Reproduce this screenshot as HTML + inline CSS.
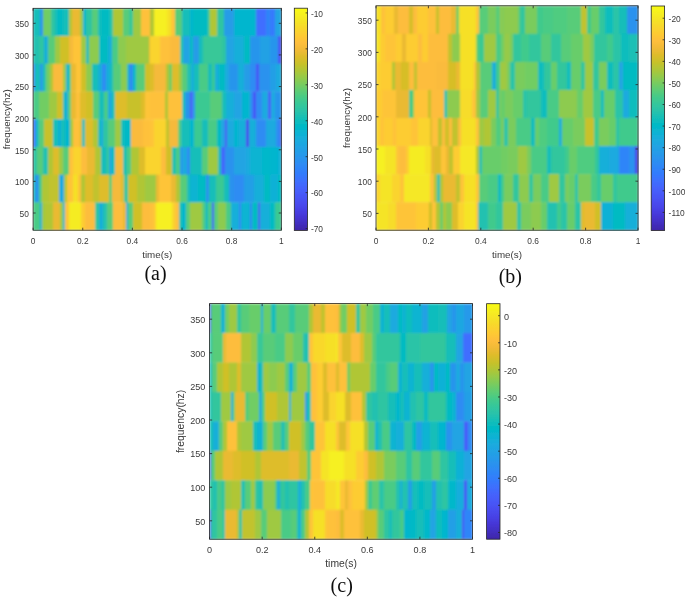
<!DOCTYPE html>
<html><head><meta charset="utf-8"><style>
html,body{margin:0;padding:0;background:#fff;}
body{width:685px;height:597px;overflow:hidden;}
svg{display:block;}
text{font-family:"Liberation Sans", sans-serif;fill:#3a3a3a;}
text.cap{font-family:"Liberation Serif",serif;fill:#111;}
</style></head><body>
<svg width="685" height="597" viewBox="0 0 685 597">
<defs><filter id="bl" x="0" y="0" width="1" height="1"><feGaussianBlur stdDeviation="1.0" edgeMode="duplicate"/></filter><filter id="bt" x="0" y="0" width="1" height="1"><feGaussianBlur stdDeviation="0.45"/></filter></defs>
<g filter="url(#bl)"><rect x="33.1" y="8.3" width="7.2" height="28.04" fill="#12beb9"/><rect x="40" y="8.3" width="3.3" height="28.04" fill="#2895ec"/><rect x="43" y="8.3" width="8.3" height="28.04" fill="#71cd64"/><rect x="51" y="8.3" width="4.3" height="28.04" fill="#2fc5a2"/><rect x="55" y="8.3" width="2.3" height="28.04" fill="#12beb9"/><rect x="57" y="8.3" width="6.3" height="28.04" fill="#04bbc2"/><rect x="63" y="8.3" width="6.3" height="28.04" fill="#12beb9"/><rect x="69" y="8.3" width="3.3" height="28.04" fill="#b0c636"/><rect x="72" y="8.3" width="8.3" height="28.04" fill="#eaba31"/><rect x="80" y="8.3" width="3.3" height="28.04" fill="#9fc942"/><rect x="83" y="8.3" width="3.3" height="28.04" fill="#05b6ce"/><rect x="86" y="8.3" width="6.3" height="28.04" fill="#2fc5a2"/><rect x="92" y="8.3" width="6.3" height="28.04" fill="#58cc79"/><rect x="98" y="8.3" width="3.3" height="28.04" fill="#12beb9"/><rect x="101" y="8.3" width="9.3" height="28.04" fill="#04bbc2"/><rect x="110" y="8.3" width="3.3" height="28.04" fill="#2fc5a2"/><rect x="113" y="8.3" width="10.3" height="28.04" fill="#b0c636"/><rect x="123" y="8.3" width="6.3" height="28.04" fill="#58cc79"/><rect x="129" y="8.3" width="4.3" height="28.04" fill="#37c898"/><rect x="133" y="8.3" width="8.3" height="28.04" fill="#9fc942"/><rect x="141" y="8.3" width="9.3" height="28.04" fill="#fec13a"/><rect x="150" y="8.3" width="4.3" height="28.04" fill="#b0c636"/><rect x="154" y="8.3" width="13.3" height="28.04" fill="#f6f020"/><rect x="167" y="8.3" width="4.3" height="28.04" fill="#f6e028"/><rect x="171" y="8.3" width="4.3" height="28.04" fill="#fec437"/><rect x="175" y="8.3" width="7.3" height="28.04" fill="#58cc79"/><rect x="182" y="8.3" width="8.3" height="28.04" fill="#12beb9"/><rect x="190" y="8.3" width="3.3" height="28.04" fill="#05b6ce"/><rect x="193" y="8.3" width="15.3" height="28.04" fill="#04bbc2"/><rect x="208" y="8.3" width="2.3" height="28.04" fill="#48cb86"/><rect x="210" y="8.3" width="7.3" height="28.04" fill="#b0c636"/><rect x="217" y="8.3" width="7.3" height="28.04" fill="#2fc5a2"/><rect x="224" y="8.3" width="10.3" height="28.04" fill="#259ce7"/><rect x="234" y="8.3" width="8.3" height="28.04" fill="#05b6ce"/><rect x="242" y="8.3" width="14.3" height="28.04" fill="#05b6ce"/><rect x="256" y="8.3" width="10.3" height="28.04" fill="#3f6eff"/><rect x="266" y="8.3" width="4.3" height="28.04" fill="#2e85f8"/><rect x="270" y="8.3" width="5.3" height="28.04" fill="#347afd"/><rect x="275" y="8.3" width="6.6" height="28.04" fill="#20a4e3"/><rect x="33.1" y="36.04" width="6.2" height="28.04" fill="#21c1b0"/><rect x="39" y="36.04" width="5.3" height="28.04" fill="#2fc5a2"/><rect x="44" y="36.04" width="4.3" height="28.04" fill="#15afd9"/><rect x="48" y="36.04" width="7.3" height="28.04" fill="#58cc79"/><rect x="55" y="36.04" width="5.3" height="28.04" fill="#9fc942"/><rect x="60" y="36.04" width="9.3" height="28.04" fill="#d0c027"/><rect x="69" y="36.04" width="4.3" height="28.04" fill="#f5ba3a"/><rect x="73" y="36.04" width="8.3" height="28.04" fill="#fec437"/><rect x="81" y="36.04" width="5.3" height="28.04" fill="#9fc942"/><rect x="86" y="36.04" width="3.3" height="28.04" fill="#12beb9"/><rect x="89" y="36.04" width="10.3" height="28.04" fill="#8dcb4f"/><rect x="99" y="36.04" width="9.3" height="28.04" fill="#04bbc2"/><rect x="108" y="36.04" width="4.3" height="28.04" fill="#15afd9"/><rect x="112" y="36.04" width="6.3" height="28.04" fill="#48cb86"/><rect x="118" y="36.04" width="8.3" height="28.04" fill="#8dcb4f"/><rect x="126" y="36.04" width="15.3" height="28.04" fill="#9fc942"/><rect x="141" y="36.04" width="8.3" height="28.04" fill="#9fc942"/><rect x="149" y="36.04" width="1.3" height="28.04" fill="#eaba31"/><rect x="150" y="36.04" width="10.3" height="28.04" fill="#fad42e"/><rect x="160" y="36.04" width="10.3" height="28.04" fill="#fec13a"/><rect x="170" y="36.04" width="10.3" height="28.04" fill="#fabb3d"/><rect x="180" y="36.04" width="3.3" height="28.04" fill="#2fc5a2"/><rect x="183" y="36.04" width="7.3" height="28.04" fill="#20a4e3"/><rect x="190" y="36.04" width="3.3" height="28.04" fill="#04bbc2"/><rect x="193" y="36.04" width="6.3" height="28.04" fill="#259ce7"/><rect x="199" y="36.04" width="4.3" height="28.04" fill="#12beb9"/><rect x="203" y="36.04" width="19.3" height="28.04" fill="#37c898"/><rect x="222" y="36.04" width="4.3" height="28.04" fill="#2fc5a2"/><rect x="226" y="36.04" width="8.3" height="28.04" fill="#20a4e3"/><rect x="234" y="36.04" width="10.3" height="28.04" fill="#15afd9"/><rect x="244" y="36.04" width="6.3" height="28.04" fill="#04bbc2"/><rect x="250" y="36.04" width="10.3" height="28.04" fill="#2895ec"/><rect x="260" y="36.04" width="10.3" height="28.04" fill="#22a1e4"/><rect x="270" y="36.04" width="8.3" height="28.04" fill="#2895ec"/><rect x="278" y="36.04" width="3.6" height="28.04" fill="#4755f6"/><rect x="33.1" y="63.77" width="2.2" height="28.04" fill="#2d8cf3"/><rect x="35" y="63.77" width="5.3" height="28.04" fill="#12beb9"/><rect x="40" y="63.77" width="3.3" height="28.04" fill="#259ce7"/><rect x="43" y="63.77" width="3.3" height="28.04" fill="#21c1b0"/><rect x="46" y="63.77" width="4.3" height="28.04" fill="#71cd64"/><rect x="50" y="63.77" width="3.3" height="28.04" fill="#b0c636"/><rect x="53" y="63.77" width="10.3" height="28.04" fill="#fabb3d"/><rect x="63" y="63.77" width="3.3" height="28.04" fill="#9fc942"/><rect x="66" y="63.77" width="3.3" height="28.04" fill="#05b6ce"/><rect x="69" y="63.77" width="2.3" height="28.04" fill="#48cb86"/><rect x="71" y="63.77" width="5.3" height="28.04" fill="#eaba31"/><rect x="76" y="63.77" width="5.3" height="28.04" fill="#fec437"/><rect x="81" y="63.77" width="5.3" height="28.04" fill="#d0c027"/><rect x="86" y="63.77" width="6.3" height="28.04" fill="#8dcb4f"/><rect x="92" y="63.77" width="6.3" height="28.04" fill="#12beb9"/><rect x="98" y="63.77" width="4.3" height="28.04" fill="#15afd9"/><rect x="102" y="63.77" width="4.3" height="28.04" fill="#2d8cf3"/><rect x="106" y="63.77" width="4.3" height="28.04" fill="#15afd9"/><rect x="110" y="63.77" width="3.3" height="28.04" fill="#12beb9"/><rect x="113" y="63.77" width="8.3" height="28.04" fill="#58cc79"/><rect x="121" y="63.77" width="6.3" height="28.04" fill="#8dcb4f"/><rect x="127" y="63.77" width="2.3" height="28.04" fill="#12beb9"/><rect x="129" y="63.77" width="4.3" height="28.04" fill="#2d8cf3"/><rect x="133" y="63.77" width="3.3" height="28.04" fill="#01b9c6"/><rect x="136" y="63.77" width="9.3" height="28.04" fill="#58cc79"/><rect x="145" y="63.77" width="5.3" height="28.04" fill="#d0c027"/><rect x="150" y="63.77" width="4.3" height="28.04" fill="#debd29"/><rect x="154" y="63.77" width="12.3" height="28.04" fill="#f5ba3a"/><rect x="166" y="63.77" width="3.3" height="28.04" fill="#b0c636"/><rect x="169" y="63.77" width="3.3" height="28.04" fill="#71cd64"/><rect x="172" y="63.77" width="7.3" height="28.04" fill="#debd29"/><rect x="179" y="63.77" width="3.3" height="28.04" fill="#9fc942"/><rect x="182" y="63.77" width="5.3" height="28.04" fill="#58cc79"/><rect x="187" y="63.77" width="4.3" height="28.04" fill="#21c1b0"/><rect x="191" y="63.77" width="3.3" height="28.04" fill="#15afd9"/><rect x="194" y="63.77" width="5.3" height="28.04" fill="#12beb9"/><rect x="199" y="63.77" width="9.3" height="28.04" fill="#48cb86"/><rect x="208" y="63.77" width="4.3" height="28.04" fill="#12beb9"/><rect x="212" y="63.77" width="3.3" height="28.04" fill="#3bc992"/><rect x="215" y="63.77" width="4.3" height="28.04" fill="#15afd9"/><rect x="219" y="63.77" width="6.3" height="28.04" fill="#04bbc2"/><rect x="225" y="63.77" width="4.3" height="28.04" fill="#1caadf"/><rect x="229" y="63.77" width="9.3" height="28.04" fill="#2895ec"/><rect x="238" y="63.77" width="6.3" height="28.04" fill="#15afd9"/><rect x="244" y="63.77" width="6.3" height="28.04" fill="#259ce7"/><rect x="250" y="63.77" width="6.3" height="28.04" fill="#2d8cf3"/><rect x="256" y="63.77" width="3.3" height="28.04" fill="#4755f6"/><rect x="259" y="63.77" width="11.3" height="28.04" fill="#2a92ee"/><rect x="270" y="63.77" width="6.3" height="28.04" fill="#249fe6"/><rect x="276" y="63.77" width="5.6" height="28.04" fill="#1caadf"/><rect x="33.1" y="91.51" width="6.2" height="28.04" fill="#48cb86"/><rect x="39" y="91.51" width="10.3" height="28.04" fill="#71cd64"/><rect x="49" y="91.51" width="8.3" height="28.04" fill="#9fc942"/><rect x="57" y="91.51" width="6.3" height="28.04" fill="#d0c027"/><rect x="63" y="91.51" width="2.3" height="28.04" fill="#12beb9"/><rect x="65" y="91.51" width="3.3" height="28.04" fill="#15afd9"/><rect x="68" y="91.51" width="3.3" height="28.04" fill="#58cc79"/><rect x="71" y="91.51" width="5.3" height="28.04" fill="#eaba31"/><rect x="76" y="91.51" width="4.3" height="28.04" fill="#fec13a"/><rect x="80" y="91.51" width="6.3" height="28.04" fill="#debd29"/><rect x="86" y="91.51" width="7.3" height="28.04" fill="#d0c027"/><rect x="93" y="91.51" width="6.3" height="28.04" fill="#58cc79"/><rect x="99" y="91.51" width="5.3" height="28.04" fill="#12beb9"/><rect x="104" y="91.51" width="4.3" height="28.04" fill="#48cb86"/><rect x="108" y="91.51" width="4.3" height="28.04" fill="#1caadf"/><rect x="112" y="91.51" width="3.3" height="28.04" fill="#21c1b0"/><rect x="115" y="91.51" width="12.3" height="28.04" fill="#debd29"/><rect x="127" y="91.51" width="14.3" height="28.04" fill="#c8c129"/><rect x="141" y="91.51" width="4.3" height="28.04" fill="#debd29"/><rect x="145" y="91.51" width="5.3" height="28.04" fill="#fec437"/><rect x="150" y="91.51" width="15.3" height="28.04" fill="#fec13a"/><rect x="165" y="91.51" width="3.3" height="28.04" fill="#b0c636"/><rect x="168" y="91.51" width="14.3" height="28.04" fill="#fec13a"/><rect x="182" y="91.51" width="3.3" height="28.04" fill="#21c1b0"/><rect x="185" y="91.51" width="5.3" height="28.04" fill="#2895ec"/><rect x="190" y="91.51" width="2.7" height="28.04" fill="#4755f6"/><rect x="192.4" y="91.51" width="2.9" height="28.04" fill="#2a92ee"/><rect x="195" y="91.51" width="15.3" height="28.04" fill="#3bc992"/><rect x="210" y="91.51" width="12.3" height="28.04" fill="#58cc79"/><rect x="222" y="91.51" width="4.3" height="28.04" fill="#12beb9"/><rect x="226" y="91.51" width="8.3" height="28.04" fill="#15afd9"/><rect x="234" y="91.51" width="8.3" height="28.04" fill="#20a4e3"/><rect x="242" y="91.51" width="8.3" height="28.04" fill="#05b6ce"/><rect x="250" y="91.51" width="3.3" height="28.04" fill="#2d8cf3"/><rect x="253" y="91.51" width="3.3" height="28.04" fill="#4755f6"/><rect x="256" y="91.51" width="6.3" height="28.04" fill="#2d8cf3"/><rect x="262" y="91.51" width="6.3" height="28.04" fill="#1caadf"/><rect x="268" y="91.51" width="3.3" height="28.04" fill="#465ffb"/><rect x="271" y="91.51" width="4.3" height="28.04" fill="#1caadf"/><rect x="275" y="91.51" width="6.6" height="28.04" fill="#2895ec"/><rect x="33.1" y="119.25" width="3.2" height="28.04" fill="#347afd"/><rect x="36" y="119.25" width="3.3" height="28.04" fill="#12beb9"/><rect x="39" y="119.25" width="5.3" height="28.04" fill="#58cc79"/><rect x="44" y="119.25" width="9.3" height="28.04" fill="#c8c129"/><rect x="53" y="119.25" width="5.3" height="28.04" fill="#12beb9"/><rect x="58" y="119.25" width="3.3" height="28.04" fill="#11b1d6"/><rect x="61" y="119.25" width="4.3" height="28.04" fill="#12beb9"/><rect x="65" y="119.25" width="5.3" height="28.04" fill="#05b6ce"/><rect x="70" y="119.25" width="3.3" height="28.04" fill="#9fc942"/><rect x="73" y="119.25" width="7.3" height="28.04" fill="#fec13a"/><rect x="80" y="119.25" width="2.3" height="28.04" fill="#debd29"/><rect x="82" y="119.25" width="3.3" height="28.04" fill="#12beb9"/><rect x="85" y="119.25" width="8.3" height="28.04" fill="#debd29"/><rect x="93" y="119.25" width="5.3" height="28.04" fill="#b0c636"/><rect x="98" y="119.25" width="3.3" height="28.04" fill="#12beb9"/><rect x="101" y="119.25" width="2.3" height="28.04" fill="#1caadf"/><rect x="103" y="119.25" width="5.3" height="28.04" fill="#2fc5a2"/><rect x="108" y="119.25" width="7.3" height="28.04" fill="#58cc79"/><rect x="115" y="119.25" width="6.3" height="28.04" fill="#9fc942"/><rect x="121" y="119.25" width="3.3" height="28.04" fill="#12beb9"/><rect x="124" y="119.25" width="7.3" height="28.04" fill="#01b9c6"/><rect x="131" y="119.25" width="12.3" height="28.04" fill="#fabb3d"/><rect x="143" y="119.25" width="7.3" height="28.04" fill="#fec13a"/><rect x="150" y="119.25" width="4.3" height="28.04" fill="#fec437"/><rect x="154" y="119.25" width="12.3" height="28.04" fill="#fad42e"/><rect x="166" y="119.25" width="3.3" height="28.04" fill="#c1c32d"/><rect x="169" y="119.25" width="9.3" height="28.04" fill="#f5ba3a"/><rect x="178" y="119.25" width="3.3" height="28.04" fill="#58cc79"/><rect x="181" y="119.25" width="9.3" height="28.04" fill="#12beb9"/><rect x="190" y="119.25" width="4.3" height="28.04" fill="#05b6ce"/><rect x="194" y="119.25" width="8.3" height="28.04" fill="#3bc992"/><rect x="202" y="119.25" width="6.3" height="28.04" fill="#12beb9"/><rect x="208" y="119.25" width="9.3" height="28.04" fill="#48cb86"/><rect x="217" y="119.25" width="4.3" height="28.04" fill="#04bbc2"/><rect x="221" y="119.25" width="4.3" height="28.04" fill="#20a4e3"/><rect x="225" y="119.25" width="2.3" height="28.04" fill="#4755f6"/><rect x="227" y="119.25" width="7.3" height="28.04" fill="#1caadf"/><rect x="234" y="119.25" width="4.3" height="28.04" fill="#05b6ce"/><rect x="238" y="119.25" width="8.3" height="28.04" fill="#15afd9"/><rect x="246" y="119.25" width="3.3" height="28.04" fill="#484aee"/><rect x="249" y="119.25" width="7.3" height="28.04" fill="#15afd9"/><rect x="256" y="119.25" width="10.3" height="28.04" fill="#2d8cf3"/><rect x="266" y="119.25" width="10.3" height="28.04" fill="#1caadf"/><rect x="276" y="119.25" width="4.3" height="28.04" fill="#2d8cf3"/><rect x="280" y="119.25" width="1.6" height="28.04" fill="#4755f6"/><rect x="33.1" y="146.99" width="4.2" height="28.04" fill="#2fc5a2"/><rect x="37" y="146.99" width="6.3" height="28.04" fill="#58cc79"/><rect x="43" y="146.99" width="5.3" height="28.04" fill="#21c1b0"/><rect x="48" y="146.99" width="5.3" height="28.04" fill="#b0c636"/><rect x="53" y="146.99" width="6.3" height="28.04" fill="#debd29"/><rect x="59" y="146.99" width="4.3" height="28.04" fill="#9fc942"/><rect x="63" y="146.99" width="6.3" height="28.04" fill="#58cc79"/><rect x="69" y="146.99" width="4.3" height="28.04" fill="#fec13a"/><rect x="73" y="146.99" width="8.3" height="28.04" fill="#fad42e"/><rect x="81" y="146.99" width="6.3" height="28.04" fill="#fdbd3d"/><rect x="87" y="146.99" width="8.3" height="28.04" fill="#eaba31"/><rect x="95" y="146.99" width="6.3" height="28.04" fill="#b0c636"/><rect x="101" y="146.99" width="6.3" height="28.04" fill="#12beb9"/><rect x="107" y="146.99" width="2.3" height="28.04" fill="#3bc992"/><rect x="109" y="146.99" width="3.3" height="28.04" fill="#1caadf"/><rect x="112" y="146.99" width="3.3" height="28.04" fill="#12beb9"/><rect x="115" y="146.99" width="8.3" height="28.04" fill="#f5ba3a"/><rect x="123" y="146.99" width="4.3" height="28.04" fill="#21c1b0"/><rect x="127" y="146.99" width="4.3" height="28.04" fill="#48cb86"/><rect x="131" y="146.99" width="8.3" height="28.04" fill="#b0c636"/><rect x="139" y="146.99" width="6.3" height="28.04" fill="#debd29"/><rect x="145" y="146.99" width="5.3" height="28.04" fill="#fad42e"/><rect x="150" y="146.99" width="11.3" height="28.04" fill="#fad42e"/><rect x="161" y="146.99" width="5.3" height="28.04" fill="#fdbd3d"/><rect x="166" y="146.99" width="6.3" height="28.04" fill="#d0c027"/><rect x="172" y="146.99" width="4.3" height="28.04" fill="#21c1b0"/><rect x="176" y="146.99" width="4.3" height="28.04" fill="#48cb86"/><rect x="180" y="146.99" width="3.3" height="28.04" fill="#259ce7"/><rect x="183" y="146.99" width="4.3" height="28.04" fill="#1caadf"/><rect x="187" y="146.99" width="3.3" height="28.04" fill="#2d8cf3"/><rect x="190" y="146.99" width="12.3" height="28.04" fill="#12beb9"/><rect x="202" y="146.99" width="6.3" height="28.04" fill="#58cc79"/><rect x="208" y="146.99" width="10.3" height="28.04" fill="#9fc942"/><rect x="218" y="146.99" width="3.3" height="28.04" fill="#12beb9"/><rect x="221" y="146.99" width="4.3" height="28.04" fill="#4367fd"/><rect x="225" y="146.99" width="9.3" height="28.04" fill="#2a92ee"/><rect x="234" y="146.99" width="12.3" height="28.04" fill="#20a4e3"/><rect x="246" y="146.99" width="4.3" height="28.04" fill="#1caadf"/><rect x="250" y="146.99" width="12.3" height="28.04" fill="#0ab4d2"/><rect x="262" y="146.99" width="8.3" height="28.04" fill="#01b8ca"/><rect x="270" y="146.99" width="8.3" height="28.04" fill="#05b6ce"/><rect x="278" y="146.99" width="3.6" height="28.04" fill="#11b1d6"/><rect x="33.1" y="174.72" width="2.2" height="28.04" fill="#12beb9"/><rect x="35" y="174.72" width="4.3" height="28.04" fill="#2895ec"/><rect x="39" y="174.72" width="3.3" height="28.04" fill="#48cb86"/><rect x="42" y="174.72" width="7.3" height="28.04" fill="#b0c636"/><rect x="49" y="174.72" width="10.3" height="28.04" fill="#c1c32d"/><rect x="59" y="174.72" width="5.3" height="28.04" fill="#1caadf"/><rect x="64" y="174.72" width="3.3" height="28.04" fill="#b0c636"/><rect x="67" y="174.72" width="6.3" height="28.04" fill="#fec437"/><rect x="73" y="174.72" width="5.3" height="28.04" fill="#f6e028"/><rect x="78" y="174.72" width="3.3" height="28.04" fill="#fec13a"/><rect x="81" y="174.72" width="4.3" height="28.04" fill="#b0c636"/><rect x="85" y="174.72" width="8.3" height="28.04" fill="#debd29"/><rect x="93" y="174.72" width="6.3" height="28.04" fill="#c1c32d"/><rect x="99" y="174.72" width="10.3" height="28.04" fill="#debd29"/><rect x="109" y="174.72" width="3.3" height="28.04" fill="#58cc79"/><rect x="112" y="174.72" width="9.3" height="28.04" fill="#f5ba3a"/><rect x="121" y="174.72" width="3.3" height="28.04" fill="#debd29"/><rect x="124" y="174.72" width="4.3" height="28.04" fill="#2fc5a2"/><rect x="128" y="174.72" width="9.3" height="28.04" fill="#d0c027"/><rect x="137" y="174.72" width="8.3" height="28.04" fill="#b0c636"/><rect x="145" y="174.72" width="5.3" height="28.04" fill="#9fc942"/><rect x="150" y="174.72" width="6.3" height="28.04" fill="#9fc942"/><rect x="156" y="174.72" width="3.3" height="28.04" fill="#eaba31"/><rect x="159" y="174.72" width="12.3" height="28.04" fill="#fec437"/><rect x="171" y="174.72" width="5.3" height="28.04" fill="#eaba31"/><rect x="176" y="174.72" width="4.3" height="28.04" fill="#b0c636"/><rect x="180" y="174.72" width="7.3" height="28.04" fill="#58cc79"/><rect x="187" y="174.72" width="3.3" height="28.04" fill="#12beb9"/><rect x="190" y="174.72" width="8.3" height="28.04" fill="#0ab4d2"/><rect x="198" y="174.72" width="8.3" height="28.04" fill="#04bbc2"/><rect x="206" y="174.72" width="3.3" height="28.04" fill="#2a92ee"/><rect x="209" y="174.72" width="7.3" height="28.04" fill="#12beb9"/><rect x="216" y="174.72" width="8.3" height="28.04" fill="#3bc992"/><rect x="224" y="174.72" width="5.3" height="28.04" fill="#12beb9"/><rect x="229" y="174.72" width="5.3" height="28.04" fill="#2a92ee"/><rect x="234" y="174.72" width="10.3" height="28.04" fill="#2d8cf3"/><rect x="244" y="174.72" width="10.3" height="28.04" fill="#249fe6"/><rect x="254" y="174.72" width="10.3" height="28.04" fill="#15afd9"/><rect x="264" y="174.72" width="6.3" height="28.04" fill="#04bbc2"/><rect x="270" y="174.72" width="8.3" height="28.04" fill="#11b1d6"/><rect x="278" y="174.72" width="3.6" height="28.04" fill="#04bbc2"/><rect x="33.1" y="202.46" width="7.2" height="28.04" fill="#48cb86"/><rect x="40" y="202.46" width="2.3" height="28.04" fill="#11b1d6"/><rect x="42" y="202.46" width="3.3" height="28.04" fill="#9fc942"/><rect x="45" y="202.46" width="8.3" height="28.04" fill="#b0c636"/><rect x="53" y="202.46" width="7.3" height="28.04" fill="#eaba31"/><rect x="60" y="202.46" width="3.3" height="28.04" fill="#9fc942"/><rect x="63" y="202.46" width="2.3" height="28.04" fill="#05b6ce"/><rect x="65" y="202.46" width="4.3" height="28.04" fill="#fec437"/><rect x="69" y="202.46" width="12.3" height="28.04" fill="#f5ec22"/><rect x="81" y="202.46" width="4.3" height="28.04" fill="#fdcc32"/><rect x="85" y="202.46" width="10.3" height="28.04" fill="#fdbd3d"/><rect x="95" y="202.46" width="4.3" height="28.04" fill="#2fc5a2"/><rect x="99" y="202.46" width="4.3" height="28.04" fill="#15afd9"/><rect x="103" y="202.46" width="4.3" height="28.04" fill="#21c1b0"/><rect x="107" y="202.46" width="6.3" height="28.04" fill="#58cc79"/><rect x="113" y="202.46" width="10.3" height="28.04" fill="#fdbd3d"/><rect x="123" y="202.46" width="3.3" height="28.04" fill="#eaba31"/><rect x="126" y="202.46" width="2.3" height="28.04" fill="#15afd9"/><rect x="128" y="202.46" width="5.3" height="28.04" fill="#58cc79"/><rect x="133" y="202.46" width="9.3" height="28.04" fill="#d0c027"/><rect x="142" y="202.46" width="8.3" height="28.04" fill="#fdbd3d"/><rect x="150" y="202.46" width="4.3" height="28.04" fill="#fec13a"/><rect x="154" y="202.46" width="2.3" height="28.04" fill="#fdcc32"/><rect x="156" y="202.46" width="16.3" height="28.04" fill="#f6f020"/><rect x="172" y="202.46" width="3.3" height="28.04" fill="#fad42e"/><rect x="175" y="202.46" width="4.3" height="28.04" fill="#fec13a"/><rect x="179" y="202.46" width="3.3" height="28.04" fill="#21c1b0"/><rect x="182" y="202.46" width="4.3" height="28.04" fill="#05b6ce"/><rect x="186" y="202.46" width="4.3" height="28.04" fill="#58cc79"/><rect x="190" y="202.46" width="12.3" height="28.04" fill="#9fc942"/><rect x="202" y="202.46" width="3.3" height="28.04" fill="#58cc79"/><rect x="205" y="202.46" width="3.3" height="28.04" fill="#12beb9"/><rect x="208" y="202.46" width="4.3" height="28.04" fill="#48cb86"/><rect x="212" y="202.46" width="2.3" height="28.04" fill="#4755f6"/><rect x="214" y="202.46" width="4.3" height="28.04" fill="#58cc79"/><rect x="218" y="202.46" width="8.3" height="28.04" fill="#8dcb4f"/><rect x="226" y="202.46" width="5.3" height="28.04" fill="#48cb86"/><rect x="231" y="202.46" width="8.3" height="28.04" fill="#15afd9"/><rect x="239" y="202.46" width="2.3" height="28.04" fill="#2e85f8"/><rect x="241" y="202.46" width="9.3" height="28.04" fill="#0ab4d2"/><rect x="250" y="202.46" width="2.3" height="28.04" fill="#2e85f8"/><rect x="252" y="202.46" width="6.3" height="28.04" fill="#04bbc2"/><rect x="258" y="202.46" width="2.3" height="28.04" fill="#4755f6"/><rect x="260" y="202.46" width="10.3" height="28.04" fill="#15afd9"/><rect x="270" y="202.46" width="5.3" height="28.04" fill="#04bbc2"/><rect x="275" y="202.46" width="6.6" height="28.04" fill="#3bc992"/></g><g filter="url(#bl)"><rect x="376" y="5.8" width="5.3" height="28.35" fill="#f6e028"/><rect x="381" y="5.8" width="4.3" height="28.35" fill="#fec13a"/><rect x="385" y="5.8" width="9.3" height="28.35" fill="#fdcc32"/><rect x="394" y="5.8" width="4.3" height="28.35" fill="#eaba31"/><rect x="398" y="5.8" width="11.3" height="28.35" fill="#fdbd3d"/><rect x="409" y="5.8" width="4.3" height="28.35" fill="#d7be28"/><rect x="413" y="5.8" width="4.3" height="28.35" fill="#fdbd3d"/><rect x="417" y="5.8" width="11.3" height="28.35" fill="#fdcc32"/><rect x="428" y="5.8" width="8.3" height="28.35" fill="#fec13a"/><rect x="436" y="5.8" width="3.3" height="28.35" fill="#c8c129"/><rect x="439" y="5.8" width="12.3" height="28.35" fill="#fdbd3d"/><rect x="451" y="5.8" width="5.3" height="28.35" fill="#eaba31"/><rect x="456" y="5.8" width="3.3" height="28.35" fill="#71cd64"/><rect x="459" y="5.8" width="17.3" height="28.35" fill="#f6e028"/><rect x="476" y="5.8" width="3.3" height="28.35" fill="#fec437"/><rect x="479" y="5.8" width="5.3" height="28.35" fill="#58cc79"/><rect x="484" y="5.8" width="4.3" height="28.35" fill="#58cc79"/><rect x="488" y="5.8" width="8.3" height="28.35" fill="#7acc5d"/><rect x="496" y="5.8" width="4.3" height="28.35" fill="#58cc79"/><rect x="500" y="5.8" width="1.3" height="28.35" fill="#9fc942"/><rect x="501" y="5.8" width="3.3" height="28.35" fill="#84cc56"/><rect x="504" y="5.8" width="14.3" height="28.35" fill="#8dcb4f"/><rect x="518" y="5.8" width="2.3" height="28.35" fill="#60cd72"/><rect x="520" y="5.8" width="5.3" height="28.35" fill="#33c69d"/><rect x="525" y="5.8" width="12.3" height="28.35" fill="#7acc5d"/><rect x="537" y="5.8" width="6.3" height="28.35" fill="#41ca8c"/><rect x="543" y="5.8" width="10.3" height="28.35" fill="#48cb86"/><rect x="553" y="5.8" width="14.3" height="28.35" fill="#50cc80"/><rect x="567" y="5.8" width="14.3" height="28.35" fill="#58cc79"/><rect x="581" y="5.8" width="6.3" height="28.35" fill="#c1c32d"/><rect x="587" y="5.8" width="4.3" height="28.35" fill="#41ca8c"/><rect x="591" y="5.8" width="8.3" height="28.35" fill="#68cd6b"/><rect x="599" y="5.8" width="6.3" height="28.35" fill="#33c69d"/><rect x="605" y="5.8" width="8.3" height="28.35" fill="#0abdbd"/><rect x="613" y="5.8" width="6.3" height="28.35" fill="#2cc4a7"/><rect x="619" y="5.8" width="8.3" height="28.35" fill="#12beb9"/><rect x="627" y="5.8" width="11.3" height="28.35" fill="#2a92ee"/><rect x="376" y="33.85" width="4.3" height="28.35" fill="#f5e427"/><rect x="380" y="33.85" width="5.3" height="28.35" fill="#fdcc32"/><rect x="385" y="33.85" width="11.3" height="28.35" fill="#fec437"/><rect x="396" y="33.85" width="6.3" height="28.35" fill="#fdcc32"/><rect x="402" y="33.85" width="4.3" height="28.35" fill="#eaba31"/><rect x="406" y="33.85" width="12.3" height="28.35" fill="#fdcc32"/><rect x="418" y="33.85" width="4.3" height="28.35" fill="#fdbd3d"/><rect x="422" y="33.85" width="6.3" height="28.35" fill="#fdcc32"/><rect x="428" y="33.85" width="6.3" height="28.35" fill="#fdbd3d"/><rect x="434" y="33.85" width="14.3" height="28.35" fill="#fdbd3d"/><rect x="448" y="33.85" width="4.3" height="28.35" fill="#c1c32d"/><rect x="452" y="33.85" width="8.3" height="28.35" fill="#8dcb4f"/><rect x="460" y="33.85" width="16.3" height="28.35" fill="#f6e028"/><rect x="476" y="33.85" width="2.3" height="28.35" fill="#71cd64"/><rect x="478" y="33.85" width="6.3" height="28.35" fill="#3bc992"/><rect x="484" y="33.85" width="12.3" height="28.35" fill="#9fc942"/><rect x="496" y="33.85" width="5.3" height="28.35" fill="#48cb86"/><rect x="501" y="33.85" width="3.3" height="28.35" fill="#71cd64"/><rect x="504" y="33.85" width="6.3" height="28.35" fill="#96ca48"/><rect x="510" y="33.85" width="3.3" height="28.35" fill="#7acc5d"/><rect x="513" y="33.85" width="8.3" height="28.35" fill="#33c69d"/><rect x="521" y="33.85" width="8.3" height="28.35" fill="#41ca8c"/><rect x="529" y="33.85" width="12.3" height="28.35" fill="#33c69d"/><rect x="541" y="33.85" width="10.3" height="28.35" fill="#58cc79"/><rect x="551" y="33.85" width="10.3" height="28.35" fill="#33c69d"/><rect x="561" y="33.85" width="10.3" height="28.35" fill="#58cc79"/><rect x="571" y="33.85" width="12.3" height="28.35" fill="#68cd6b"/><rect x="583" y="33.85" width="7.3" height="28.35" fill="#9fc942"/><rect x="590" y="33.85" width="4.3" height="28.35" fill="#7acc5d"/><rect x="594" y="33.85" width="13.3" height="28.35" fill="#33c69d"/><rect x="607" y="33.85" width="6.3" height="28.35" fill="#41ca8c"/><rect x="613" y="33.85" width="8.3" height="28.35" fill="#2cc4a7"/><rect x="621" y="33.85" width="8.3" height="28.35" fill="#0abdbd"/><rect x="629" y="33.85" width="9.3" height="28.35" fill="#1ac0b5"/><rect x="376" y="61.9" width="4.3" height="28.35" fill="#fad42e"/><rect x="380" y="61.9" width="12.3" height="28.35" fill="#fdcc32"/><rect x="392" y="61.9" width="3.3" height="28.35" fill="#b0c636"/><rect x="395" y="61.9" width="6.3" height="28.35" fill="#eaba31"/><rect x="401" y="61.9" width="8.3" height="28.35" fill="#d7be28"/><rect x="409" y="61.9" width="5.3" height="28.35" fill="#fdbd3d"/><rect x="414" y="61.9" width="3.3" height="28.35" fill="#c1c32d"/><rect x="417" y="61.9" width="19.3" height="28.35" fill="#fdbd3d"/><rect x="436" y="61.9" width="12.3" height="28.35" fill="#fabb3d"/><rect x="448" y="61.9" width="8.3" height="28.35" fill="#d7be28"/><rect x="456" y="61.9" width="4.3" height="28.35" fill="#eaba31"/><rect x="460" y="61.9" width="14.3" height="28.35" fill="#f6e028"/><rect x="474" y="61.9" width="2.3" height="28.35" fill="#fec13a"/><rect x="476" y="61.9" width="4.3" height="28.35" fill="#b0c636"/><rect x="480" y="61.9" width="12.3" height="28.35" fill="#58cc79"/><rect x="492" y="61.9" width="4.3" height="28.35" fill="#15afd9"/><rect x="496" y="61.9" width="4.3" height="28.35" fill="#41ca8c"/><rect x="500" y="61.9" width="1.3" height="28.35" fill="#9fc942"/><rect x="501" y="61.9" width="6.3" height="28.35" fill="#9fc942"/><rect x="507" y="61.9" width="3.3" height="28.35" fill="#7acc5d"/><rect x="510" y="61.9" width="5.3" height="28.35" fill="#2cc4a7"/><rect x="515" y="61.9" width="10.3" height="28.35" fill="#7acc5d"/><rect x="525" y="61.9" width="13.3" height="28.35" fill="#71cd64"/><rect x="538" y="61.9" width="6.3" height="28.35" fill="#0abdbd"/><rect x="544" y="61.9" width="7.3" height="28.35" fill="#33c69d"/><rect x="551" y="61.9" width="6.3" height="28.35" fill="#68cd6b"/><rect x="557" y="61.9" width="10.3" height="28.35" fill="#33c69d"/><rect x="567" y="61.9" width="4.3" height="28.35" fill="#0abdbd"/><rect x="571" y="61.9" width="10.3" height="28.35" fill="#68cd6b"/><rect x="581" y="61.9" width="4.3" height="28.35" fill="#33c69d"/><rect x="585" y="61.9" width="8.3" height="28.35" fill="#9fc942"/><rect x="593" y="61.9" width="6.3" height="28.35" fill="#33c69d"/><rect x="599" y="61.9" width="8.3" height="28.35" fill="#7acc5d"/><rect x="607" y="61.9" width="6.3" height="28.35" fill="#0abdbd"/><rect x="613" y="61.9" width="6.3" height="28.35" fill="#2cc4a7"/><rect x="619" y="61.9" width="4.3" height="28.35" fill="#20a4e3"/><rect x="623" y="61.9" width="15.3" height="28.35" fill="#04bbc2"/><rect x="376" y="89.95" width="6.3" height="28.35" fill="#fdcc32"/><rect x="382" y="89.95" width="14.3" height="28.35" fill="#fec437"/><rect x="396" y="89.95" width="13.3" height="28.35" fill="#eaba31"/><rect x="409" y="89.95" width="3.3" height="28.35" fill="#3bc992"/><rect x="412" y="89.95" width="2.3" height="28.35" fill="#71cd64"/><rect x="414" y="89.95" width="14.3" height="28.35" fill="#fec437"/><rect x="428" y="89.95" width="3.3" height="28.35" fill="#c8c129"/><rect x="431" y="89.95" width="13.3" height="28.35" fill="#fdbd3d"/><rect x="444" y="89.95" width="3.3" height="28.35" fill="#21c1b0"/><rect x="447" y="89.95" width="13.3" height="28.35" fill="#8dcb4f"/><rect x="460" y="89.95" width="12.3" height="28.35" fill="#f7dc2a"/><rect x="472" y="89.95" width="4.3" height="28.35" fill="#fec437"/><rect x="476" y="89.95" width="4.3" height="28.35" fill="#9fc942"/><rect x="480" y="89.95" width="8.3" height="28.35" fill="#58cc79"/><rect x="488" y="89.95" width="8.3" height="28.35" fill="#9fc942"/><rect x="496" y="89.95" width="3.3" height="28.35" fill="#33c69d"/><rect x="499" y="89.95" width="2.3" height="28.35" fill="#7acc5d"/><rect x="501" y="89.95" width="4.3" height="28.35" fill="#68cd6b"/><rect x="505" y="89.95" width="8.3" height="28.35" fill="#7acc5d"/><rect x="513" y="89.95" width="10.3" height="28.35" fill="#68cd6b"/><rect x="523" y="89.95" width="4.3" height="28.35" fill="#2cc4a7"/><rect x="527" y="89.95" width="14.3" height="28.35" fill="#33c69d"/><rect x="541" y="89.95" width="6.3" height="28.35" fill="#0abdbd"/><rect x="547" y="89.95" width="12.3" height="28.35" fill="#48cb86"/><rect x="559" y="89.95" width="18.3" height="28.35" fill="#8dcb4f"/><rect x="577" y="89.95" width="6.3" height="28.35" fill="#68cd6b"/><rect x="583" y="89.95" width="10.3" height="28.35" fill="#9fc942"/><rect x="593" y="89.95" width="8.3" height="28.35" fill="#48cb86"/><rect x="601" y="89.95" width="3.3" height="28.35" fill="#0abdbd"/><rect x="604" y="89.95" width="11.3" height="28.35" fill="#68cd6b"/><rect x="615" y="89.95" width="8.3" height="28.35" fill="#2cc4a7"/><rect x="623" y="89.95" width="6.3" height="28.35" fill="#1caadf"/><rect x="629" y="89.95" width="9.3" height="28.35" fill="#0abdbd"/><rect x="376" y="118" width="4.3" height="28.35" fill="#fad42e"/><rect x="380" y="118" width="4.3" height="28.35" fill="#fec437"/><rect x="384" y="118" width="9.3" height="28.35" fill="#fdcc32"/><rect x="393" y="118" width="3.3" height="28.35" fill="#fec13a"/><rect x="396" y="118" width="15.3" height="28.35" fill="#fdcc32"/><rect x="411" y="118" width="7.3" height="28.35" fill="#fec437"/><rect x="418" y="118" width="12.3" height="28.35" fill="#fad42e"/><rect x="430" y="118" width="2.3" height="28.35" fill="#debd29"/><rect x="432" y="118" width="6.3" height="28.35" fill="#fec13a"/><rect x="438" y="118" width="4.3" height="28.35" fill="#c1c32d"/><rect x="442" y="118" width="3.3" height="28.35" fill="#fdbd3d"/><rect x="445" y="118" width="4.3" height="28.35" fill="#d0c027"/><rect x="449" y="118" width="3.3" height="28.35" fill="#fdbd3d"/><rect x="452" y="118" width="6.3" height="28.35" fill="#c1c32d"/><rect x="458" y="118" width="3.3" height="28.35" fill="#fdbd3d"/><rect x="461" y="118" width="15.3" height="28.35" fill="#f6e028"/><rect x="476" y="118" width="3.3" height="28.35" fill="#fec13a"/><rect x="479" y="118" width="5.3" height="28.35" fill="#9fc942"/><rect x="484" y="118" width="7.3" height="28.35" fill="#b0c636"/><rect x="491" y="118" width="5.3" height="28.35" fill="#7acc5d"/><rect x="496" y="118" width="5.3" height="28.35" fill="#50cc80"/><rect x="501" y="118" width="3.3" height="28.35" fill="#7acc5d"/><rect x="504" y="118" width="4.3" height="28.35" fill="#2cc4a7"/><rect x="508" y="118" width="8.3" height="28.35" fill="#7acc5d"/><rect x="516" y="118" width="15.3" height="28.35" fill="#48cb86"/><rect x="531" y="118" width="4.3" height="28.35" fill="#0abdbd"/><rect x="535" y="118" width="4.3" height="28.35" fill="#68cd6b"/><rect x="539" y="118" width="8.3" height="28.35" fill="#50cc80"/><rect x="547" y="118" width="12.3" height="28.35" fill="#41ca8c"/><rect x="559" y="118" width="3.3" height="28.35" fill="#15afd9"/><rect x="562" y="118" width="11.3" height="28.35" fill="#68cd6b"/><rect x="573" y="118" width="12.3" height="28.35" fill="#7acc5d"/><rect x="585" y="118" width="9.3" height="28.35" fill="#c8c129"/><rect x="594" y="118" width="5.3" height="28.35" fill="#41ca8c"/><rect x="599" y="118" width="10.3" height="28.35" fill="#7acc5d"/><rect x="609" y="118" width="7.3" height="28.35" fill="#68cd6b"/><rect x="616" y="118" width="3.3" height="28.35" fill="#2cc4a7"/><rect x="619" y="118" width="19.3" height="28.35" fill="#41ca8c"/><rect x="376" y="146.05" width="9.3" height="28.35" fill="#f6f020"/><rect x="385" y="146.05" width="11.3" height="28.35" fill="#f5e427"/><rect x="396" y="146.05" width="3.3" height="28.35" fill="#fec437"/><rect x="399" y="146.05" width="7.3" height="28.35" fill="#fdbd3d"/><rect x="406" y="146.05" width="3.3" height="28.35" fill="#fdcc32"/><rect x="409" y="146.05" width="16.3" height="28.35" fill="#f5ec22"/><rect x="425" y="146.05" width="6.3" height="28.35" fill="#f6e028"/><rect x="431" y="146.05" width="3.3" height="28.35" fill="#eaba31"/><rect x="434" y="146.05" width="7.3" height="28.35" fill="#debd29"/><rect x="441" y="146.05" width="5.3" height="28.35" fill="#fec437"/><rect x="446" y="146.05" width="3.3" height="28.35" fill="#eaba31"/><rect x="449" y="146.05" width="4.3" height="28.35" fill="#c1c32d"/><rect x="453" y="146.05" width="7.3" height="28.35" fill="#fdcc32"/><rect x="460" y="146.05" width="16.3" height="28.35" fill="#f5e825"/><rect x="476" y="146.05" width="3.3" height="28.35" fill="#b0c636"/><rect x="479" y="146.05" width="3.3" height="28.35" fill="#21c1b0"/><rect x="482" y="146.05" width="10.3" height="28.35" fill="#68cd6b"/><rect x="492" y="146.05" width="9.3" height="28.35" fill="#68cd6b"/><rect x="501" y="146.05" width="7.3" height="28.35" fill="#71cd64"/><rect x="508" y="146.05" width="10.3" height="28.35" fill="#7acc5d"/><rect x="518" y="146.05" width="9.3" height="28.35" fill="#9fc942"/><rect x="527" y="146.05" width="4.3" height="28.35" fill="#7acc5d"/><rect x="531" y="146.05" width="16.3" height="28.35" fill="#48cb86"/><rect x="547" y="146.05" width="4.3" height="28.35" fill="#12beb9"/><rect x="551" y="146.05" width="14.3" height="28.35" fill="#33c69d"/><rect x="565" y="146.05" width="4.3" height="28.35" fill="#41ca8c"/><rect x="569" y="146.05" width="8.3" height="28.35" fill="#68cd6b"/><rect x="577" y="146.05" width="18.3" height="28.35" fill="#50cc80"/><rect x="595" y="146.05" width="4.3" height="28.35" fill="#33c69d"/><rect x="599" y="146.05" width="10.3" height="28.35" fill="#15afd9"/><rect x="609" y="146.05" width="10.3" height="28.35" fill="#1caadf"/><rect x="619" y="146.05" width="10.3" height="28.35" fill="#2e85f8"/><rect x="629" y="146.05" width="6.3" height="28.35" fill="#2a92ee"/><rect x="635" y="146.05" width="3.3" height="28.35" fill="#4743e7"/><rect x="376" y="174.1" width="4.3" height="28.35" fill="#fad42e"/><rect x="380" y="174.1" width="12.3" height="28.35" fill="#f5e427"/><rect x="392" y="174.1" width="8.3" height="28.35" fill="#fad42e"/><rect x="400" y="174.1" width="4.3" height="28.35" fill="#fec437"/><rect x="404" y="174.1" width="26.3" height="28.35" fill="#f5e825"/><rect x="430" y="174.1" width="4.3" height="28.35" fill="#fec13a"/><rect x="434" y="174.1" width="3.3" height="28.35" fill="#b0c636"/><rect x="437" y="174.1" width="3.3" height="28.35" fill="#21c1b0"/><rect x="440" y="174.1" width="3.3" height="28.35" fill="#b0c636"/><rect x="443" y="174.1" width="13.3" height="28.35" fill="#eaba31"/><rect x="456" y="174.1" width="4.3" height="28.35" fill="#c1c32d"/><rect x="460" y="174.1" width="4.3" height="28.35" fill="#fec437"/><rect x="464" y="174.1" width="12.3" height="28.35" fill="#f6e028"/><rect x="476" y="174.1" width="3.3" height="28.35" fill="#fec437"/><rect x="479" y="174.1" width="9.3" height="28.35" fill="#58cc79"/><rect x="488" y="174.1" width="10.3" height="28.35" fill="#48cb86"/><rect x="498" y="174.1" width="3.3" height="28.35" fill="#04bbc2"/><rect x="501" y="174.1" width="3.3" height="28.35" fill="#41ca8c"/><rect x="504" y="174.1" width="9.3" height="28.35" fill="#7acc5d"/><rect x="513" y="174.1" width="6.3" height="28.35" fill="#33c69d"/><rect x="519" y="174.1" width="10.3" height="28.35" fill="#8dcb4f"/><rect x="529" y="174.1" width="4.3" height="28.35" fill="#33c69d"/><rect x="533" y="174.1" width="8.3" height="28.35" fill="#7acc5d"/><rect x="541" y="174.1" width="8.3" height="28.35" fill="#48cb86"/><rect x="549" y="174.1" width="10.3" height="28.35" fill="#9fc942"/><rect x="559" y="174.1" width="6.3" height="28.35" fill="#33c69d"/><rect x="565" y="174.1" width="4.3" height="28.35" fill="#7acc5d"/><rect x="569" y="174.1" width="6.3" height="28.35" fill="#68cd6b"/><rect x="575" y="174.1" width="3.3" height="28.35" fill="#2cc4a7"/><rect x="578" y="174.1" width="13.3" height="28.35" fill="#7acc5d"/><rect x="591" y="174.1" width="6.3" height="28.35" fill="#48cb86"/><rect x="597" y="174.1" width="4.3" height="28.35" fill="#33c69d"/><rect x="601" y="174.1" width="12.3" height="28.35" fill="#68cd6b"/><rect x="613" y="174.1" width="4.3" height="28.35" fill="#33c69d"/><rect x="617" y="174.1" width="21.3" height="28.35" fill="#41ca8c"/><rect x="376" y="202.15" width="12.3" height="28.35" fill="#f5e427"/><rect x="388" y="202.15" width="8.3" height="28.35" fill="#f7dc2a"/><rect x="396" y="202.15" width="20.3" height="28.35" fill="#fec437"/><rect x="416" y="202.15" width="13.3" height="28.35" fill="#fdcc32"/><rect x="429" y="202.15" width="3.3" height="28.35" fill="#d0c027"/><rect x="432" y="202.15" width="4.3" height="28.35" fill="#fec437"/><rect x="436" y="202.15" width="4.3" height="28.35" fill="#b0c636"/><rect x="440" y="202.15" width="3.3" height="28.35" fill="#68cd6b"/><rect x="443" y="202.15" width="3.3" height="28.35" fill="#b0c636"/><rect x="446" y="202.15" width="6.3" height="28.35" fill="#8dcb4f"/><rect x="452" y="202.15" width="6.3" height="28.35" fill="#debd29"/><rect x="458" y="202.15" width="6.3" height="28.35" fill="#fad42e"/><rect x="464" y="202.15" width="12.3" height="28.35" fill="#f5e427"/><rect x="476" y="202.15" width="2.3" height="28.35" fill="#fec13a"/><rect x="478" y="202.15" width="4.3" height="28.35" fill="#21c1b0"/><rect x="482" y="202.15" width="6.3" height="28.35" fill="#21c1b0"/><rect x="488" y="202.15" width="8.3" height="28.35" fill="#41ca8c"/><rect x="496" y="202.15" width="5.3" height="28.35" fill="#33c69d"/><rect x="501" y="202.15" width="2.3" height="28.35" fill="#33c69d"/><rect x="503" y="202.15" width="14.3" height="28.35" fill="#9fc942"/><rect x="517" y="202.15" width="4.3" height="28.35" fill="#2cc4a7"/><rect x="521" y="202.15" width="10.3" height="28.35" fill="#7acc5d"/><rect x="531" y="202.15" width="10.3" height="28.35" fill="#8dcb4f"/><rect x="541" y="202.15" width="6.3" height="28.35" fill="#68cd6b"/><rect x="547" y="202.15" width="10.3" height="28.35" fill="#21c1b0"/><rect x="557" y="202.15" width="4.3" height="28.35" fill="#41ca8c"/><rect x="561" y="202.15" width="6.3" height="28.35" fill="#2cc4a7"/><rect x="567" y="202.15" width="8.3" height="28.35" fill="#68cd6b"/><rect x="575" y="202.15" width="6.3" height="28.35" fill="#2cc4a7"/><rect x="581" y="202.15" width="3.3" height="28.35" fill="#debd29"/><rect x="584" y="202.15" width="11.3" height="28.35" fill="#eaba31"/><rect x="595" y="202.15" width="6.3" height="28.35" fill="#d0c027"/><rect x="601" y="202.15" width="12.3" height="28.35" fill="#11b1d6"/><rect x="613" y="202.15" width="12.3" height="28.35" fill="#04bbc2"/><rect x="625" y="202.15" width="13.3" height="28.35" fill="#15afd9"/></g><g filter="url(#bl)"><rect x="209.6" y="303.6" width="1.7" height="29.75" fill="#484aee"/><rect x="211" y="303.6" width="10.3" height="29.75" fill="#58cc79"/><rect x="221" y="303.6" width="4.3" height="29.75" fill="#0ab4d2"/><rect x="225" y="303.6" width="4.3" height="29.75" fill="#71cd64"/><rect x="229" y="303.6" width="8.3" height="29.75" fill="#9fc942"/><rect x="237" y="303.6" width="4.3" height="29.75" fill="#33c69d"/><rect x="241" y="303.6" width="8.3" height="29.75" fill="#58cc79"/><rect x="249" y="303.6" width="12.3" height="29.75" fill="#68cd6b"/><rect x="261" y="303.6" width="2.3" height="29.75" fill="#0ab4d2"/><rect x="263" y="303.6" width="8.3" height="29.75" fill="#68cd6b"/><rect x="271" y="303.6" width="5.3" height="29.75" fill="#12beb9"/><rect x="276" y="303.6" width="13.3" height="29.75" fill="#58cc79"/><rect x="289" y="303.6" width="6.3" height="29.75" fill="#33c69d"/><rect x="295" y="303.6" width="14.3" height="29.75" fill="#58cc79"/><rect x="309" y="303.6" width="4.3" height="29.75" fill="#b0c636"/><rect x="313" y="303.6" width="8.3" height="29.75" fill="#eaba31"/><rect x="321" y="303.6" width="4.3" height="29.75" fill="#c1c32d"/><rect x="325" y="303.6" width="11.3" height="29.75" fill="#fec13a"/><rect x="336" y="303.6" width="3.3" height="29.75" fill="#fdbd3d"/><rect x="339" y="303.6" width="2.3" height="29.75" fill="#b0c636"/><rect x="341" y="303.6" width="6.3" height="29.75" fill="#71cd64"/><rect x="347" y="303.6" width="9.3" height="29.75" fill="#d0c027"/><rect x="356" y="303.6" width="4.3" height="29.75" fill="#33c69d"/><rect x="360" y="303.6" width="6.3" height="29.75" fill="#9fc942"/><rect x="366" y="303.6" width="7.3" height="29.75" fill="#71cd64"/><rect x="373" y="303.6" width="7.3" height="29.75" fill="#48cb86"/><rect x="380" y="303.6" width="4.3" height="29.75" fill="#0ab4d2"/><rect x="384" y="303.6" width="6.3" height="29.75" fill="#12beb9"/><rect x="390" y="303.6" width="8.3" height="29.75" fill="#1caadf"/><rect x="398" y="303.6" width="4.3" height="29.75" fill="#04bbc2"/><rect x="402" y="303.6" width="4.3" height="29.75" fill="#0ab4d2"/><rect x="406" y="303.6" width="6.3" height="29.75" fill="#0abdbd"/><rect x="412" y="303.6" width="10.3" height="29.75" fill="#0ab4d2"/><rect x="422" y="303.6" width="6.3" height="29.75" fill="#22a1e4"/><rect x="428" y="303.6" width="10.3" height="29.75" fill="#0abdbd"/><rect x="438" y="303.6" width="9.3" height="29.75" fill="#12beb9"/><rect x="447" y="303.6" width="5.3" height="29.75" fill="#20a4e3"/><rect x="452" y="303.6" width="4.3" height="29.75" fill="#2895ec"/><rect x="456" y="303.6" width="8.3" height="29.75" fill="#1ea7e1"/><rect x="464" y="303.6" width="8.8" height="29.75" fill="#2699ea"/><rect x="209.6" y="333.05" width="2.7" height="29.75" fill="#2fc5a2"/><rect x="212" y="333.05" width="11.3" height="29.75" fill="#58cc79"/><rect x="223" y="333.05" width="3.9" height="29.75" fill="#eaba31"/><rect x="226.6" y="333.05" width="14.7" height="29.75" fill="#fdbd3d"/><rect x="241" y="333.05" width="10.3" height="29.75" fill="#b0c636"/><rect x="251" y="333.05" width="6.3" height="29.75" fill="#8dcb4f"/><rect x="257" y="333.05" width="6.3" height="29.75" fill="#37c898"/><rect x="263" y="333.05" width="12.3" height="29.75" fill="#58cc79"/><rect x="275" y="333.05" width="10.3" height="29.75" fill="#48cb86"/><rect x="285" y="333.05" width="8.3" height="29.75" fill="#8dcb4f"/><rect x="293" y="333.05" width="10.3" height="29.75" fill="#68cd6b"/><rect x="303" y="333.05" width="6.3" height="29.75" fill="#21c1b0"/><rect x="309" y="333.05" width="4.3" height="29.75" fill="#fec437"/><rect x="313" y="333.05" width="12.3" height="29.75" fill="#f9d82c"/><rect x="325" y="333.05" width="11.3" height="29.75" fill="#f6e028"/><rect x="336" y="333.05" width="2.3" height="29.75" fill="#f5e825"/><rect x="338" y="333.05" width="4.3" height="29.75" fill="#fec437"/><rect x="342" y="333.05" width="9.3" height="29.75" fill="#debd29"/><rect x="351" y="333.05" width="9.3" height="29.75" fill="#fdbd3d"/><rect x="360" y="333.05" width="4.3" height="29.75" fill="#debd29"/><rect x="364" y="333.05" width="8.3" height="29.75" fill="#9fc942"/><rect x="372" y="333.05" width="4.3" height="29.75" fill="#58cc79"/><rect x="376" y="333.05" width="24.3" height="29.75" fill="#33c69d"/><rect x="400" y="333.05" width="6.3" height="29.75" fill="#04bbc2"/><rect x="406" y="333.05" width="14.3" height="29.75" fill="#2cc4a7"/><rect x="420" y="333.05" width="26.3" height="29.75" fill="#33c69d"/><rect x="446" y="333.05" width="10.3" height="29.75" fill="#12beb9"/><rect x="456" y="333.05" width="7.3" height="29.75" fill="#20a4e3"/><rect x="463" y="333.05" width="9.8" height="29.75" fill="#3f6eff"/><rect x="209.6" y="362.5" width="2.7" height="29.75" fill="#12beb9"/><rect x="212" y="362.5" width="5.3" height="29.75" fill="#58cc79"/><rect x="217" y="362.5" width="6.3" height="29.75" fill="#b0c636"/><rect x="223" y="362.5" width="6.3" height="29.75" fill="#d0c027"/><rect x="229" y="362.5" width="8.3" height="29.75" fill="#b0c636"/><rect x="237" y="362.5" width="4.3" height="29.75" fill="#debd29"/><rect x="241" y="362.5" width="16.3" height="29.75" fill="#9fc942"/><rect x="257" y="362.5" width="3.3" height="29.75" fill="#0ab4d2"/><rect x="260" y="362.5" width="3.3" height="29.75" fill="#12beb9"/><rect x="263" y="362.5" width="6.3" height="29.75" fill="#9fc942"/><rect x="269" y="362.5" width="8.3" height="29.75" fill="#8dcb4f"/><rect x="277" y="362.5" width="8.3" height="29.75" fill="#9fc942"/><rect x="285" y="362.5" width="4.3" height="29.75" fill="#58cc79"/><rect x="289" y="362.5" width="4.3" height="29.75" fill="#0ab4d2"/><rect x="293" y="362.5" width="4.3" height="29.75" fill="#58cc79"/><rect x="297" y="362.5" width="10.3" height="29.75" fill="#9fc942"/><rect x="307" y="362.5" width="4.3" height="29.75" fill="#58cc79"/><rect x="311" y="362.5" width="6.3" height="29.75" fill="#fec13a"/><rect x="317" y="362.5" width="6.3" height="29.75" fill="#fdcc32"/><rect x="323" y="362.5" width="4.3" height="29.75" fill="#debd29"/><rect x="327" y="362.5" width="9.3" height="29.75" fill="#fec13a"/><rect x="336" y="362.5" width="3.3" height="29.75" fill="#debd29"/><rect x="339" y="362.5" width="8.3" height="29.75" fill="#fec13a"/><rect x="347" y="362.5" width="3.3" height="29.75" fill="#71cd64"/><rect x="350" y="362.5" width="20.3" height="29.75" fill="#b0c636"/><rect x="370" y="362.5" width="6.3" height="29.75" fill="#68cd6b"/><rect x="376" y="362.5" width="10.3" height="29.75" fill="#33c69d"/><rect x="386" y="362.5" width="4.3" height="29.75" fill="#48cb86"/><rect x="390" y="362.5" width="8.3" height="29.75" fill="#58cc79"/><rect x="398" y="362.5" width="4.3" height="29.75" fill="#0ab4d2"/><rect x="402" y="362.5" width="6.3" height="29.75" fill="#12beb9"/><rect x="408" y="362.5" width="6.3" height="29.75" fill="#0ab4d2"/><rect x="414" y="362.5" width="8.3" height="29.75" fill="#12beb9"/><rect x="422" y="362.5" width="8.3" height="29.75" fill="#15afd9"/><rect x="430" y="362.5" width="4.3" height="29.75" fill="#2895ec"/><rect x="434" y="362.5" width="4.3" height="29.75" fill="#04bbc2"/><rect x="438" y="362.5" width="8.3" height="29.75" fill="#11b1d6"/><rect x="446" y="362.5" width="4.3" height="29.75" fill="#04bbc2"/><rect x="450" y="362.5" width="6.3" height="29.75" fill="#2895ec"/><rect x="456" y="362.5" width="4.3" height="29.75" fill="#1caadf"/><rect x="460" y="362.5" width="4.3" height="29.75" fill="#2895ec"/><rect x="464" y="362.5" width="8.8" height="29.75" fill="#20a4e3"/><rect x="209.6" y="391.95" width="2.7" height="29.75" fill="#21c1b0"/><rect x="212" y="391.95" width="9.3" height="29.75" fill="#33c69d"/><rect x="221" y="391.95" width="10.3" height="29.75" fill="#9fc942"/><rect x="231" y="391.95" width="2.3" height="29.75" fill="#15afd9"/><rect x="233" y="391.95" width="2.3" height="29.75" fill="#71cd64"/><rect x="235" y="391.95" width="10.3" height="29.75" fill="#eaba31"/><rect x="245" y="391.95" width="4.3" height="29.75" fill="#58cc79"/><rect x="249" y="391.95" width="10.3" height="29.75" fill="#71cd64"/><rect x="259" y="391.95" width="3.3" height="29.75" fill="#15afd9"/><rect x="262" y="391.95" width="3.3" height="29.75" fill="#58cc79"/><rect x="265" y="391.95" width="12.3" height="29.75" fill="#d0c027"/><rect x="277" y="391.95" width="12.3" height="29.75" fill="#b0c636"/><rect x="289" y="391.95" width="2.3" height="29.75" fill="#05b6ce"/><rect x="291" y="391.95" width="14.3" height="29.75" fill="#9fc942"/><rect x="305" y="391.95" width="2.3" height="29.75" fill="#2895ec"/><rect x="307" y="391.95" width="4.3" height="29.75" fill="#21c1b0"/><rect x="311" y="391.95" width="6.3" height="29.75" fill="#fec13a"/><rect x="317" y="391.95" width="6.3" height="29.75" fill="#fdcc32"/><rect x="323" y="391.95" width="6.3" height="29.75" fill="#debd29"/><rect x="329" y="391.95" width="7.3" height="29.75" fill="#fad42e"/><rect x="336" y="391.95" width="9.3" height="29.75" fill="#f6e028"/><rect x="345" y="391.95" width="6.3" height="29.75" fill="#debd29"/><rect x="351" y="391.95" width="11.3" height="29.75" fill="#fec13a"/><rect x="362" y="391.95" width="4.3" height="29.75" fill="#b0c636"/><rect x="366" y="391.95" width="6.3" height="29.75" fill="#2fc5a2"/><rect x="372" y="391.95" width="6.3" height="29.75" fill="#21c1b0"/><rect x="378" y="391.95" width="10.3" height="29.75" fill="#2fc5a2"/><rect x="388" y="391.95" width="8.3" height="29.75" fill="#12beb9"/><rect x="396" y="391.95" width="4.3" height="29.75" fill="#05b6ce"/><rect x="400" y="391.95" width="4.3" height="29.75" fill="#12beb9"/><rect x="404" y="391.95" width="6.3" height="29.75" fill="#0ab4d2"/><rect x="410" y="391.95" width="6.3" height="29.75" fill="#21c1b0"/><rect x="416" y="391.95" width="8.3" height="29.75" fill="#2fc5a2"/><rect x="424" y="391.95" width="4.3" height="29.75" fill="#04bbc2"/><rect x="428" y="391.95" width="18.3" height="29.75" fill="#33c69d"/><rect x="446" y="391.95" width="6.3" height="29.75" fill="#04bbc2"/><rect x="452" y="391.95" width="4.3" height="29.75" fill="#0ab4d2"/><rect x="456" y="391.95" width="8.3" height="29.75" fill="#2d8cf3"/><rect x="464" y="391.95" width="8.8" height="29.75" fill="#249fe6"/><rect x="209.6" y="421.4" width="3.7" height="29.75" fill="#12beb9"/><rect x="213" y="421.4" width="6.3" height="29.75" fill="#15afd9"/><rect x="219" y="421.4" width="4.3" height="29.75" fill="#58cc79"/><rect x="223" y="421.4" width="4.3" height="29.75" fill="#b0c636"/><rect x="227" y="421.4" width="10.3" height="29.75" fill="#fec13a"/><rect x="237" y="421.4" width="4.3" height="29.75" fill="#b0c636"/><rect x="241" y="421.4" width="12.3" height="29.75" fill="#9fc942"/><rect x="253" y="421.4" width="4.3" height="29.75" fill="#12beb9"/><rect x="257" y="421.4" width="6.3" height="29.75" fill="#0ab4d2"/><rect x="263" y="421.4" width="4.3" height="29.75" fill="#58cc79"/><rect x="267" y="421.4" width="6.3" height="29.75" fill="#9fc942"/><rect x="273" y="421.4" width="8.3" height="29.75" fill="#58cc79"/><rect x="281" y="421.4" width="4.3" height="29.75" fill="#21c1b0"/><rect x="285" y="421.4" width="4.3" height="29.75" fill="#58cc79"/><rect x="289" y="421.4" width="12.3" height="29.75" fill="#d0c027"/><rect x="301" y="421.4" width="4.3" height="29.75" fill="#9fc942"/><rect x="305" y="421.4" width="4.3" height="29.75" fill="#58cc79"/><rect x="309" y="421.4" width="6.3" height="29.75" fill="#33c69d"/><rect x="315" y="421.4" width="10.3" height="29.75" fill="#fec437"/><rect x="325" y="421.4" width="11.3" height="29.75" fill="#f6e028"/><rect x="336" y="421.4" width="3.3" height="29.75" fill="#fec437"/><rect x="339" y="421.4" width="7.3" height="29.75" fill="#debd29"/><rect x="346" y="421.4" width="4.3" height="29.75" fill="#fec437"/><rect x="350" y="421.4" width="14.3" height="29.75" fill="#f6e028"/><rect x="364" y="421.4" width="4.3" height="29.75" fill="#b0c636"/><rect x="368" y="421.4" width="7.3" height="29.75" fill="#58cc79"/><rect x="375" y="421.4" width="3.3" height="29.75" fill="#0ab4d2"/><rect x="378" y="421.4" width="4.3" height="29.75" fill="#21c1b0"/><rect x="382" y="421.4" width="8.3" height="29.75" fill="#48cb86"/><rect x="390" y="421.4" width="6.3" height="29.75" fill="#0ab4d2"/><rect x="396" y="421.4" width="8.3" height="29.75" fill="#15afd9"/><rect x="404" y="421.4" width="8.3" height="29.75" fill="#2fc5a2"/><rect x="412" y="421.4" width="4.3" height="29.75" fill="#04bbc2"/><rect x="416" y="421.4" width="6.3" height="29.75" fill="#249fe6"/><rect x="422" y="421.4" width="8.3" height="29.75" fill="#0ab4d2"/><rect x="430" y="421.4" width="8.3" height="29.75" fill="#12beb9"/><rect x="438" y="421.4" width="8.3" height="29.75" fill="#05b6ce"/><rect x="446" y="421.4" width="6.3" height="29.75" fill="#2a92ee"/><rect x="452" y="421.4" width="12.3" height="29.75" fill="#20a4e3"/><rect x="464" y="421.4" width="4.3" height="29.75" fill="#465ffb"/><rect x="468" y="421.4" width="4.8" height="29.75" fill="#2d8cf3"/><rect x="209.6" y="450.85" width="1.7" height="29.75" fill="#484aee"/><rect x="211" y="450.85" width="4.3" height="29.75" fill="#58cc79"/><rect x="215" y="450.85" width="8.3" height="29.75" fill="#b0c636"/><rect x="223" y="450.85" width="10.3" height="29.75" fill="#eaba31"/><rect x="233" y="450.85" width="8.3" height="29.75" fill="#debd29"/><rect x="241" y="450.85" width="14.3" height="29.75" fill="#d0c027"/><rect x="255" y="450.85" width="6.3" height="29.75" fill="#b0c636"/><rect x="261" y="450.85" width="28.3" height="29.75" fill="#debd29"/><rect x="289" y="450.85" width="10.3" height="29.75" fill="#eaba31"/><rect x="299" y="450.85" width="8.3" height="29.75" fill="#c1c32d"/><rect x="307" y="450.85" width="4.3" height="29.75" fill="#58cc79"/><rect x="311" y="450.85" width="10.3" height="29.75" fill="#fec437"/><rect x="321" y="450.85" width="8.3" height="29.75" fill="#f5e427"/><rect x="329" y="450.85" width="7.3" height="29.75" fill="#f6f020"/><rect x="336" y="450.85" width="8.3" height="29.75" fill="#f6f020"/><rect x="344" y="450.85" width="12.3" height="29.75" fill="#f6e028"/><rect x="356" y="450.85" width="8.3" height="29.75" fill="#fdcc32"/><rect x="364" y="450.85" width="4.3" height="29.75" fill="#fdbd3d"/><rect x="368" y="450.85" width="8.3" height="29.75" fill="#d0c027"/><rect x="376" y="450.85" width="8.3" height="29.75" fill="#b0c636"/><rect x="384" y="450.85" width="12.3" height="29.75" fill="#7acc5d"/><rect x="396" y="450.85" width="10.3" height="29.75" fill="#58cc79"/><rect x="406" y="450.85" width="6.3" height="29.75" fill="#2fc5a2"/><rect x="412" y="450.85" width="8.3" height="29.75" fill="#58cc79"/><rect x="420" y="450.85" width="12.3" height="29.75" fill="#33c69d"/><rect x="432" y="450.85" width="8.3" height="29.75" fill="#58cc79"/><rect x="440" y="450.85" width="8.3" height="29.75" fill="#2fc5a2"/><rect x="448" y="450.85" width="8.3" height="29.75" fill="#12beb9"/><rect x="456" y="450.85" width="8.3" height="29.75" fill="#11b1d6"/><rect x="464" y="450.85" width="8.8" height="29.75" fill="#20a4e3"/><rect x="209.6" y="480.3" width="3.7" height="29.75" fill="#2fc5a2"/><rect x="213" y="480.3" width="4.3" height="29.75" fill="#21c1b0"/><rect x="217" y="480.3" width="4.3" height="29.75" fill="#48cb86"/><rect x="221" y="480.3" width="4.3" height="29.75" fill="#33c69d"/><rect x="225" y="480.3" width="6.3" height="29.75" fill="#9fc942"/><rect x="231" y="480.3" width="10.3" height="29.75" fill="#b0c636"/><rect x="241" y="480.3" width="4.3" height="29.75" fill="#21c1b0"/><rect x="245" y="480.3" width="6.3" height="29.75" fill="#58cc79"/><rect x="251" y="480.3" width="4.3" height="29.75" fill="#9fc942"/><rect x="255" y="480.3" width="3.3" height="29.75" fill="#33c69d"/><rect x="258" y="480.3" width="5.3" height="29.75" fill="#21c1b0"/><rect x="263" y="480.3" width="12.3" height="29.75" fill="#8dcb4f"/><rect x="275" y="480.3" width="2.3" height="29.75" fill="#48cb86"/><rect x="277" y="480.3" width="3.3" height="29.75" fill="#15afd9"/><rect x="280" y="480.3" width="5.3" height="29.75" fill="#33c69d"/><rect x="285" y="480.3" width="4.3" height="29.75" fill="#21c1b0"/><rect x="289" y="480.3" width="9.3" height="29.75" fill="#2fc5a2"/><rect x="298" y="480.3" width="3.3" height="29.75" fill="#15afd9"/><rect x="301" y="480.3" width="4.3" height="29.75" fill="#21c1b0"/><rect x="305" y="480.3" width="5.3" height="29.75" fill="#48cb86"/><rect x="310" y="480.3" width="3.3" height="29.75" fill="#fec437"/><rect x="313" y="480.3" width="12.3" height="29.75" fill="#fec13a"/><rect x="325" y="480.3" width="11.3" height="29.75" fill="#f7dc2a"/><rect x="336" y="480.3" width="4.3" height="29.75" fill="#f5e825"/><rect x="340" y="480.3" width="5.3" height="29.75" fill="#fec437"/><rect x="345" y="480.3" width="3.3" height="29.75" fill="#eaba31"/><rect x="348" y="480.3" width="4.3" height="29.75" fill="#fec13a"/><rect x="352" y="480.3" width="13.3" height="29.75" fill="#fdcc32"/><rect x="365" y="480.3" width="3.3" height="29.75" fill="#9fc942"/><rect x="368" y="480.3" width="4.3" height="29.75" fill="#3bc992"/><rect x="372" y="480.3" width="7.3" height="29.75" fill="#60cd72"/><rect x="379" y="480.3" width="5.3" height="29.75" fill="#2cc4a7"/><rect x="384" y="480.3" width="12.3" height="29.75" fill="#48cb86"/><rect x="396" y="480.3" width="4.3" height="29.75" fill="#21c1b0"/><rect x="400" y="480.3" width="2.3" height="29.75" fill="#15afd9"/><rect x="402" y="480.3" width="6.3" height="29.75" fill="#21c1b0"/><rect x="408" y="480.3" width="4.3" height="29.75" fill="#249fe6"/><rect x="412" y="480.3" width="6.3" height="29.75" fill="#12beb9"/><rect x="418" y="480.3" width="6.3" height="29.75" fill="#04bbc2"/><rect x="424" y="480.3" width="8.3" height="29.75" fill="#12beb9"/><rect x="432" y="480.3" width="4.3" height="29.75" fill="#249fe6"/><rect x="436" y="480.3" width="6.3" height="29.75" fill="#21c1b0"/><rect x="442" y="480.3" width="6.3" height="29.75" fill="#2fc5a2"/><rect x="448" y="480.3" width="8.3" height="29.75" fill="#01b8ca"/><rect x="456" y="480.3" width="8.3" height="29.75" fill="#19addc"/><rect x="464" y="480.3" width="3.3" height="29.75" fill="#4755f6"/><rect x="467" y="480.3" width="5.8" height="29.75" fill="#1caadf"/><rect x="209.6" y="509.75" width="1.7" height="29.75" fill="#484aee"/><rect x="211" y="509.75" width="6.3" height="29.75" fill="#2fc5a2"/><rect x="217" y="509.75" width="6.3" height="29.75" fill="#48cb86"/><rect x="223" y="509.75" width="2.3" height="29.75" fill="#21c1b0"/><rect x="225" y="509.75" width="12.3" height="29.75" fill="#eaba31"/><rect x="237" y="509.75" width="2.3" height="29.75" fill="#b0c636"/><rect x="239" y="509.75" width="3.3" height="29.75" fill="#2fc5a2"/><rect x="242" y="509.75" width="13.3" height="29.75" fill="#c1c32d"/><rect x="255" y="509.75" width="6.3" height="29.75" fill="#9fc942"/><rect x="261" y="509.75" width="6.3" height="29.75" fill="#58cc79"/><rect x="267" y="509.75" width="14.3" height="29.75" fill="#9fc942"/><rect x="281" y="509.75" width="10.3" height="29.75" fill="#48cb86"/><rect x="291" y="509.75" width="6.3" height="29.75" fill="#58cc79"/><rect x="297" y="509.75" width="2.3" height="29.75" fill="#12beb9"/><rect x="299" y="509.75" width="2.3" height="29.75" fill="#15afd9"/><rect x="301" y="509.75" width="4.3" height="29.75" fill="#48cb86"/><rect x="305" y="509.75" width="4.3" height="29.75" fill="#b0c636"/><rect x="309" y="509.75" width="4.3" height="29.75" fill="#fec437"/><rect x="313" y="509.75" width="12.3" height="29.75" fill="#f6e028"/><rect x="325" y="509.75" width="4.3" height="29.75" fill="#fec437"/><rect x="329" y="509.75" width="7.3" height="29.75" fill="#fec13a"/><rect x="336" y="509.75" width="4.3" height="29.75" fill="#fdbd3d"/><rect x="340" y="509.75" width="4.3" height="29.75" fill="#debd29"/><rect x="344" y="509.75" width="16.3" height="29.75" fill="#fec13a"/><rect x="360" y="509.75" width="4.3" height="29.75" fill="#eaba31"/><rect x="364" y="509.75" width="12.3" height="29.75" fill="#d0c027"/><rect x="376" y="509.75" width="2.3" height="29.75" fill="#9fc942"/><rect x="378" y="509.75" width="6.3" height="29.75" fill="#58cc79"/><rect x="384" y="509.75" width="5.3" height="29.75" fill="#2fc5a2"/><rect x="389" y="509.75" width="3.3" height="29.75" fill="#12beb9"/><rect x="392" y="509.75" width="8.3" height="29.75" fill="#33c69d"/><rect x="400" y="509.75" width="4.3" height="29.75" fill="#48cb86"/><rect x="404" y="509.75" width="6.3" height="29.75" fill="#05b6ce"/><rect x="410" y="509.75" width="6.3" height="29.75" fill="#01b9c6"/><rect x="416" y="509.75" width="8.3" height="29.75" fill="#12beb9"/><rect x="424" y="509.75" width="6.3" height="29.75" fill="#01b8ca"/><rect x="430" y="509.75" width="6.3" height="29.75" fill="#20a4e3"/><rect x="436" y="509.75" width="6.3" height="29.75" fill="#0abdbd"/><rect x="442" y="509.75" width="6.3" height="29.75" fill="#05b6ce"/><rect x="448" y="509.75" width="8.3" height="29.75" fill="#249fe6"/><rect x="456" y="509.75" width="6.3" height="29.75" fill="#15afd9"/><rect x="462" y="509.75" width="2.3" height="29.75" fill="#4755f6"/><rect x="464" y="509.75" width="8.8" height="29.75" fill="#2e85f8"/></g><g filter="url(#bt)"><rect x="33.1" y="8.3" width="248.2" height="221.9" fill="none" stroke="#262626" stroke-width="0.8"/><line x1="33.1" y1="230.2" x2="33.1" y2="227.7" stroke="#262626" stroke-width="0.8"/><line x1="33.1" y1="8.3" x2="33.1" y2="10.8" stroke="#262626" stroke-width="0.8"/><text x="33.1" y="243.5" text-anchor="middle" font-size="8.4">0</text><line x1="82.74" y1="230.2" x2="82.74" y2="227.7" stroke="#262626" stroke-width="0.8"/><line x1="82.74" y1="8.3" x2="82.74" y2="10.8" stroke="#262626" stroke-width="0.8"/><text x="82.74" y="243.5" text-anchor="middle" font-size="8.4">0.2</text><line x1="132.38" y1="230.2" x2="132.38" y2="227.7" stroke="#262626" stroke-width="0.8"/><line x1="132.38" y1="8.3" x2="132.38" y2="10.8" stroke="#262626" stroke-width="0.8"/><text x="132.38" y="243.5" text-anchor="middle" font-size="8.4">0.4</text><line x1="182.02" y1="230.2" x2="182.02" y2="227.7" stroke="#262626" stroke-width="0.8"/><line x1="182.02" y1="8.3" x2="182.02" y2="10.8" stroke="#262626" stroke-width="0.8"/><text x="182.02" y="243.5" text-anchor="middle" font-size="8.4">0.6</text><line x1="231.66" y1="230.2" x2="231.66" y2="227.7" stroke="#262626" stroke-width="0.8"/><line x1="231.66" y1="8.3" x2="231.66" y2="10.8" stroke="#262626" stroke-width="0.8"/><text x="231.66" y="243.5" text-anchor="middle" font-size="8.4">0.8</text><line x1="281.3" y1="230.2" x2="281.3" y2="227.7" stroke="#262626" stroke-width="0.8"/><line x1="281.3" y1="8.3" x2="281.3" y2="10.8" stroke="#262626" stroke-width="0.8"/><text x="281.3" y="243.5" text-anchor="middle" font-size="8.4">1</text><line x1="33.1" y1="213" x2="35.6" y2="213" stroke="#262626" stroke-width="0.8"/><line x1="281.3" y1="213" x2="278.8" y2="213" stroke="#262626" stroke-width="0.8"/><text x="28.9" y="216.8" text-anchor="end" font-size="8.4">50</text><line x1="33.1" y1="181.38" x2="35.6" y2="181.38" stroke="#262626" stroke-width="0.8"/><line x1="281.3" y1="181.38" x2="278.8" y2="181.38" stroke="#262626" stroke-width="0.8"/><text x="28.9" y="185.19" text-anchor="end" font-size="8.4">100</text><line x1="33.1" y1="149.77" x2="35.6" y2="149.77" stroke="#262626" stroke-width="0.8"/><line x1="281.3" y1="149.77" x2="278.8" y2="149.77" stroke="#262626" stroke-width="0.8"/><text x="28.9" y="153.57" text-anchor="end" font-size="8.4">150</text><line x1="33.1" y1="118.16" x2="35.6" y2="118.16" stroke="#262626" stroke-width="0.8"/><line x1="281.3" y1="118.16" x2="278.8" y2="118.16" stroke="#262626" stroke-width="0.8"/><text x="28.9" y="121.95" text-anchor="end" font-size="8.4">200</text><line x1="33.1" y1="86.54" x2="35.6" y2="86.54" stroke="#262626" stroke-width="0.8"/><line x1="281.3" y1="86.54" x2="278.8" y2="86.54" stroke="#262626" stroke-width="0.8"/><text x="28.9" y="90.34" text-anchor="end" font-size="8.4">250</text><line x1="33.1" y1="54.93" x2="35.6" y2="54.93" stroke="#262626" stroke-width="0.8"/><line x1="281.3" y1="54.93" x2="278.8" y2="54.93" stroke="#262626" stroke-width="0.8"/><text x="28.9" y="58.73" text-anchor="end" font-size="8.4">300</text><line x1="33.1" y1="23.31" x2="35.6" y2="23.31" stroke="#262626" stroke-width="0.8"/><line x1="281.3" y1="23.31" x2="278.8" y2="23.31" stroke="#262626" stroke-width="0.8"/><text x="28.9" y="27.11" text-anchor="end" font-size="8.4">350</text><text x="157.2" y="257.6" text-anchor="middle" font-size="9.8">time(s)</text><text transform="translate(9.8,119.25) rotate(-90)" text-anchor="middle" font-size="9.8">frequency(hz)</text><defs><linearGradient id="ga" x1="0" y1="0" x2="0" y2="1"><stop offset="0.0000" stop-color="#f9fb15"/><stop offset="0.0312" stop-color="#f6ef20"/><stop offset="0.0625" stop-color="#f5e327"/><stop offset="0.0938" stop-color="#f9d62d"/><stop offset="0.1250" stop-color="#feca33"/><stop offset="0.1562" stop-color="#febe3c"/><stop offset="0.1875" stop-color="#f1ba37"/><stop offset="0.2188" stop-color="#debc2a"/><stop offset="0.2500" stop-color="#c8c129"/><stop offset="0.2812" stop-color="#afc637"/><stop offset="0.3125" stop-color="#94ca4a"/><stop offset="0.3438" stop-color="#77cc60"/><stop offset="0.3750" stop-color="#5ccc76"/><stop offset="0.4062" stop-color="#44ca8a"/><stop offset="0.4375" stop-color="#34c79c"/><stop offset="0.4688" stop-color="#28c2ab"/><stop offset="0.5000" stop-color="#12beb9"/><stop offset="0.5312" stop-color="#01b9c6"/><stop offset="0.5625" stop-color="#0cb3d3"/><stop offset="0.5938" stop-color="#1aacdd"/><stop offset="0.6250" stop-color="#21a3e3"/><stop offset="0.6562" stop-color="#269ae9"/><stop offset="0.6875" stop-color="#2c90f0"/><stop offset="0.7188" stop-color="#2e85f8"/><stop offset="0.7500" stop-color="#347afd"/><stop offset="0.7812" stop-color="#3f6efe"/><stop offset="0.8125" stop-color="#4562fc"/><stop offset="0.8438" stop-color="#4757f7"/><stop offset="0.8750" stop-color="#484cef"/><stop offset="0.9062" stop-color="#4741e5"/><stop offset="0.9375" stop-color="#4536d5"/><stop offset="0.9688" stop-color="#422ebf"/><stop offset="1.0000" stop-color="#3e26a8"/></linearGradient></defs><rect x="294.3" y="8.2" width="13.3" height="222.2" fill="url(#ga)" stroke="#262626" stroke-width="0.8"/><line x1="307.6" y1="228.6" x2="305.6" y2="228.6" stroke="#262626" stroke-width="0.8"/><text x="310.9" y="232.4" font-size="8.4">-70</text><line x1="307.6" y1="192.65" x2="305.6" y2="192.65" stroke="#262626" stroke-width="0.8"/><text x="310.9" y="196.45" font-size="8.4">-60</text><line x1="307.6" y1="156.7" x2="305.6" y2="156.7" stroke="#262626" stroke-width="0.8"/><text x="310.9" y="160.5" font-size="8.4">-50</text><line x1="307.6" y1="120.76" x2="305.6" y2="120.76" stroke="#262626" stroke-width="0.8"/><text x="310.9" y="124.56" font-size="8.4">-40</text><line x1="307.6" y1="84.81" x2="305.6" y2="84.81" stroke="#262626" stroke-width="0.8"/><text x="310.9" y="88.61" font-size="8.4">-30</text><line x1="307.6" y1="48.86" x2="305.6" y2="48.86" stroke="#262626" stroke-width="0.8"/><text x="310.9" y="52.66" font-size="8.4">-20</text><line x1="307.6" y1="12.91" x2="305.6" y2="12.91" stroke="#262626" stroke-width="0.8"/><text x="310.9" y="16.71" font-size="8.4">-10</text><text x="155.5" y="279.5" text-anchor="middle" class="cap" style="font-size:20px">(a)</text><rect x="376" y="5.8" width="262" height="224.4" fill="none" stroke="#262626" stroke-width="0.8"/><line x1="376" y1="230.2" x2="376" y2="227.7" stroke="#262626" stroke-width="0.8"/><line x1="376" y1="5.8" x2="376" y2="8.3" stroke="#262626" stroke-width="0.8"/><text x="376" y="243.5" text-anchor="middle" font-size="8.4">0</text><line x1="428.4" y1="230.2" x2="428.4" y2="227.7" stroke="#262626" stroke-width="0.8"/><line x1="428.4" y1="5.8" x2="428.4" y2="8.3" stroke="#262626" stroke-width="0.8"/><text x="428.4" y="243.5" text-anchor="middle" font-size="8.4">0.2</text><line x1="480.8" y1="230.2" x2="480.8" y2="227.7" stroke="#262626" stroke-width="0.8"/><line x1="480.8" y1="5.8" x2="480.8" y2="8.3" stroke="#262626" stroke-width="0.8"/><text x="480.8" y="243.5" text-anchor="middle" font-size="8.4">0.4</text><line x1="533.2" y1="230.2" x2="533.2" y2="227.7" stroke="#262626" stroke-width="0.8"/><line x1="533.2" y1="5.8" x2="533.2" y2="8.3" stroke="#262626" stroke-width="0.8"/><text x="533.2" y="243.5" text-anchor="middle" font-size="8.4">0.6</text><line x1="585.6" y1="230.2" x2="585.6" y2="227.7" stroke="#262626" stroke-width="0.8"/><line x1="585.6" y1="5.8" x2="585.6" y2="8.3" stroke="#262626" stroke-width="0.8"/><text x="585.6" y="243.5" text-anchor="middle" font-size="8.4">0.8</text><line x1="638" y1="230.2" x2="638" y2="227.7" stroke="#262626" stroke-width="0.8"/><line x1="638" y1="5.8" x2="638" y2="8.3" stroke="#262626" stroke-width="0.8"/><text x="638" y="243.5" text-anchor="middle" font-size="8.4">1</text><line x1="376" y1="213.4" x2="378.5" y2="213.4" stroke="#262626" stroke-width="0.8"/><line x1="638" y1="213.4" x2="635.5" y2="213.4" stroke="#262626" stroke-width="0.8"/><text x="371.8" y="217.2" text-anchor="end" font-size="8.4">50</text><line x1="376" y1="181.2" x2="378.5" y2="181.2" stroke="#262626" stroke-width="0.8"/><line x1="638" y1="181.2" x2="635.5" y2="181.2" stroke="#262626" stroke-width="0.8"/><text x="371.8" y="185" text-anchor="end" font-size="8.4">100</text><line x1="376" y1="149" x2="378.5" y2="149" stroke="#262626" stroke-width="0.8"/><line x1="638" y1="149" x2="635.5" y2="149" stroke="#262626" stroke-width="0.8"/><text x="371.8" y="152.8" text-anchor="end" font-size="8.4">150</text><line x1="376" y1="116.8" x2="378.5" y2="116.8" stroke="#262626" stroke-width="0.8"/><line x1="638" y1="116.8" x2="635.5" y2="116.8" stroke="#262626" stroke-width="0.8"/><text x="371.8" y="120.6" text-anchor="end" font-size="8.4">200</text><line x1="376" y1="84.6" x2="378.5" y2="84.6" stroke="#262626" stroke-width="0.8"/><line x1="638" y1="84.6" x2="635.5" y2="84.6" stroke="#262626" stroke-width="0.8"/><text x="371.8" y="88.4" text-anchor="end" font-size="8.4">250</text><line x1="376" y1="52.4" x2="378.5" y2="52.4" stroke="#262626" stroke-width="0.8"/><line x1="638" y1="52.4" x2="635.5" y2="52.4" stroke="#262626" stroke-width="0.8"/><text x="371.8" y="56.2" text-anchor="end" font-size="8.4">300</text><line x1="376" y1="20.2" x2="378.5" y2="20.2" stroke="#262626" stroke-width="0.8"/><line x1="638" y1="20.2" x2="635.5" y2="20.2" stroke="#262626" stroke-width="0.8"/><text x="371.8" y="24" text-anchor="end" font-size="8.4">350</text><text x="507" y="257.6" text-anchor="middle" font-size="9.8">time(s)</text><text transform="translate(350.4,118) rotate(-90)" text-anchor="middle" font-size="9.8">frequency(hz)</text><defs><linearGradient id="gb" x1="0" y1="0" x2="0" y2="1"><stop offset="0.0000" stop-color="#f9fb15"/><stop offset="0.0312" stop-color="#f6ef20"/><stop offset="0.0625" stop-color="#f5e327"/><stop offset="0.0938" stop-color="#f9d62d"/><stop offset="0.1250" stop-color="#feca33"/><stop offset="0.1562" stop-color="#febe3c"/><stop offset="0.1875" stop-color="#f1ba37"/><stop offset="0.2188" stop-color="#debc2a"/><stop offset="0.2500" stop-color="#c8c129"/><stop offset="0.2812" stop-color="#afc637"/><stop offset="0.3125" stop-color="#94ca4a"/><stop offset="0.3438" stop-color="#77cc60"/><stop offset="0.3750" stop-color="#5ccc76"/><stop offset="0.4062" stop-color="#44ca8a"/><stop offset="0.4375" stop-color="#34c79c"/><stop offset="0.4688" stop-color="#28c2ab"/><stop offset="0.5000" stop-color="#12beb9"/><stop offset="0.5312" stop-color="#01b9c6"/><stop offset="0.5625" stop-color="#0cb3d3"/><stop offset="0.5938" stop-color="#1aacdd"/><stop offset="0.6250" stop-color="#21a3e3"/><stop offset="0.6562" stop-color="#269ae9"/><stop offset="0.6875" stop-color="#2c90f0"/><stop offset="0.7188" stop-color="#2e85f8"/><stop offset="0.7500" stop-color="#347afd"/><stop offset="0.7812" stop-color="#3f6efe"/><stop offset="0.8125" stop-color="#4562fc"/><stop offset="0.8438" stop-color="#4757f7"/><stop offset="0.8750" stop-color="#484cef"/><stop offset="0.9062" stop-color="#4741e5"/><stop offset="0.9375" stop-color="#4536d5"/><stop offset="0.9688" stop-color="#422ebf"/><stop offset="1.0000" stop-color="#3e26a8"/></linearGradient></defs><rect x="651.2" y="6" width="13.4" height="224.5" fill="url(#gb)" stroke="#262626" stroke-width="0.8"/><line x1="664.6" y1="212.38" x2="662.6" y2="212.38" stroke="#262626" stroke-width="0.8"/><text x="668.6" y="216.18" font-size="8.4">-110</text><line x1="664.6" y1="190.8" x2="662.6" y2="190.8" stroke="#262626" stroke-width="0.8"/><text x="668.6" y="194.6" font-size="8.4">-100</text><line x1="664.6" y1="169.23" x2="662.6" y2="169.23" stroke="#262626" stroke-width="0.8"/><text x="668.6" y="173.03" font-size="8.4">-90</text><line x1="664.6" y1="147.66" x2="662.6" y2="147.66" stroke="#262626" stroke-width="0.8"/><text x="668.6" y="151.46" font-size="8.4">-80</text><line x1="664.6" y1="126.08" x2="662.6" y2="126.08" stroke="#262626" stroke-width="0.8"/><text x="668.6" y="129.88" font-size="8.4">-70</text><line x1="664.6" y1="104.51" x2="662.6" y2="104.51" stroke="#262626" stroke-width="0.8"/><text x="668.6" y="108.31" font-size="8.4">-60</text><line x1="664.6" y1="82.93" x2="662.6" y2="82.93" stroke="#262626" stroke-width="0.8"/><text x="668.6" y="86.73" font-size="8.4">-50</text><line x1="664.6" y1="61.36" x2="662.6" y2="61.36" stroke="#262626" stroke-width="0.8"/><text x="668.6" y="65.16" font-size="8.4">-40</text><line x1="664.6" y1="39.79" x2="662.6" y2="39.79" stroke="#262626" stroke-width="0.8"/><text x="668.6" y="43.59" font-size="8.4">-30</text><line x1="664.6" y1="18.21" x2="662.6" y2="18.21" stroke="#262626" stroke-width="0.8"/><text x="668.6" y="22.01" font-size="8.4">-20</text><text x="510.3" y="283" text-anchor="middle" class="cap" style="font-size:20px">(b)</text><rect x="209.6" y="303.6" width="262.9" height="235.6" fill="none" stroke="#262626" stroke-width="0.8"/><line x1="209.6" y1="539.2" x2="209.6" y2="536.7" stroke="#262626" stroke-width="0.8"/><line x1="209.6" y1="303.6" x2="209.6" y2="306.1" stroke="#262626" stroke-width="0.8"/><text x="209.6" y="552.5" text-anchor="middle" font-size="9.07">0</text><line x1="262.18" y1="539.2" x2="262.18" y2="536.7" stroke="#262626" stroke-width="0.8"/><line x1="262.18" y1="303.6" x2="262.18" y2="306.1" stroke="#262626" stroke-width="0.8"/><text x="262.18" y="552.5" text-anchor="middle" font-size="9.07">0.2</text><line x1="314.76" y1="539.2" x2="314.76" y2="536.7" stroke="#262626" stroke-width="0.8"/><line x1="314.76" y1="303.6" x2="314.76" y2="306.1" stroke="#262626" stroke-width="0.8"/><text x="314.76" y="552.5" text-anchor="middle" font-size="9.07">0.4</text><line x1="367.34" y1="539.2" x2="367.34" y2="536.7" stroke="#262626" stroke-width="0.8"/><line x1="367.34" y1="303.6" x2="367.34" y2="306.1" stroke="#262626" stroke-width="0.8"/><text x="367.34" y="552.5" text-anchor="middle" font-size="9.07">0.6</text><line x1="419.92" y1="539.2" x2="419.92" y2="536.7" stroke="#262626" stroke-width="0.8"/><line x1="419.92" y1="303.6" x2="419.92" y2="306.1" stroke="#262626" stroke-width="0.8"/><text x="419.92" y="552.5" text-anchor="middle" font-size="9.07">0.8</text><line x1="472.5" y1="539.2" x2="472.5" y2="536.7" stroke="#262626" stroke-width="0.8"/><line x1="472.5" y1="303.6" x2="472.5" y2="306.1" stroke="#262626" stroke-width="0.8"/><text x="472.5" y="552.5" text-anchor="middle" font-size="9.07">1</text><line x1="209.6" y1="520.8" x2="212.1" y2="520.8" stroke="#262626" stroke-width="0.8"/><line x1="472.5" y1="520.8" x2="470" y2="520.8" stroke="#262626" stroke-width="0.8"/><text x="205.4" y="524.6" text-anchor="end" font-size="9.07">50</text><line x1="209.6" y1="487.2" x2="212.1" y2="487.2" stroke="#262626" stroke-width="0.8"/><line x1="472.5" y1="487.2" x2="470" y2="487.2" stroke="#262626" stroke-width="0.8"/><text x="205.4" y="491" text-anchor="end" font-size="9.07">100</text><line x1="209.6" y1="453.6" x2="212.1" y2="453.6" stroke="#262626" stroke-width="0.8"/><line x1="472.5" y1="453.6" x2="470" y2="453.6" stroke="#262626" stroke-width="0.8"/><text x="205.4" y="457.4" text-anchor="end" font-size="9.07">150</text><line x1="209.6" y1="420" x2="212.1" y2="420" stroke="#262626" stroke-width="0.8"/><line x1="472.5" y1="420" x2="470" y2="420" stroke="#262626" stroke-width="0.8"/><text x="205.4" y="423.8" text-anchor="end" font-size="9.07">200</text><line x1="209.6" y1="386.4" x2="212.1" y2="386.4" stroke="#262626" stroke-width="0.8"/><line x1="472.5" y1="386.4" x2="470" y2="386.4" stroke="#262626" stroke-width="0.8"/><text x="205.4" y="390.2" text-anchor="end" font-size="9.07">250</text><line x1="209.6" y1="352.8" x2="212.1" y2="352.8" stroke="#262626" stroke-width="0.8"/><line x1="472.5" y1="352.8" x2="470" y2="352.8" stroke="#262626" stroke-width="0.8"/><text x="205.4" y="356.6" text-anchor="end" font-size="9.07">300</text><line x1="209.6" y1="319.2" x2="212.1" y2="319.2" stroke="#262626" stroke-width="0.8"/><line x1="472.5" y1="319.2" x2="470" y2="319.2" stroke="#262626" stroke-width="0.8"/><text x="205.4" y="323" text-anchor="end" font-size="9.07">350</text><text x="341.05" y="566.6" text-anchor="middle" font-size="10.35">time(s)</text><text transform="translate(183.6,421.4) rotate(-90)" text-anchor="middle" font-size="10.35">frequency(hz)</text><defs><linearGradient id="gc" x1="0" y1="0" x2="0" y2="1"><stop offset="0.0000" stop-color="#f9fb15"/><stop offset="0.0312" stop-color="#f6ef20"/><stop offset="0.0625" stop-color="#f5e327"/><stop offset="0.0938" stop-color="#f9d62d"/><stop offset="0.1250" stop-color="#feca33"/><stop offset="0.1562" stop-color="#febe3c"/><stop offset="0.1875" stop-color="#f1ba37"/><stop offset="0.2188" stop-color="#debc2a"/><stop offset="0.2500" stop-color="#c8c129"/><stop offset="0.2812" stop-color="#afc637"/><stop offset="0.3125" stop-color="#94ca4a"/><stop offset="0.3438" stop-color="#77cc60"/><stop offset="0.3750" stop-color="#5ccc76"/><stop offset="0.4062" stop-color="#44ca8a"/><stop offset="0.4375" stop-color="#34c79c"/><stop offset="0.4688" stop-color="#28c2ab"/><stop offset="0.5000" stop-color="#12beb9"/><stop offset="0.5312" stop-color="#01b9c6"/><stop offset="0.5625" stop-color="#0cb3d3"/><stop offset="0.5938" stop-color="#1aacdd"/><stop offset="0.6250" stop-color="#21a3e3"/><stop offset="0.6562" stop-color="#269ae9"/><stop offset="0.6875" stop-color="#2c90f0"/><stop offset="0.7188" stop-color="#2e85f8"/><stop offset="0.7500" stop-color="#347afd"/><stop offset="0.7812" stop-color="#3f6efe"/><stop offset="0.8125" stop-color="#4562fc"/><stop offset="0.8438" stop-color="#4757f7"/><stop offset="0.8750" stop-color="#484cef"/><stop offset="0.9062" stop-color="#4741e5"/><stop offset="0.9375" stop-color="#4536d5"/><stop offset="0.9688" stop-color="#422ebf"/><stop offset="1.0000" stop-color="#3e26a8"/></linearGradient></defs><rect x="486.6" y="303.7" width="13.4" height="235.5" fill="url(#gc)" stroke="#262626" stroke-width="0.8"/><line x1="500" y1="532.43" x2="498" y2="532.43" stroke="#262626" stroke-width="0.8"/><text x="504" y="536.23" font-size="9.07">-80</text><line x1="500" y1="505.34" x2="498" y2="505.34" stroke="#262626" stroke-width="0.8"/><text x="504" y="509.14" font-size="9.07">-70</text><line x1="500" y1="478.25" x2="498" y2="478.25" stroke="#262626" stroke-width="0.8"/><text x="504" y="482.05" font-size="9.07">-60</text><line x1="500" y1="451.16" x2="498" y2="451.16" stroke="#262626" stroke-width="0.8"/><text x="504" y="454.96" font-size="9.07">-50</text><line x1="500" y1="424.06" x2="498" y2="424.06" stroke="#262626" stroke-width="0.8"/><text x="504" y="427.86" font-size="9.07">-40</text><line x1="500" y1="396.97" x2="498" y2="396.97" stroke="#262626" stroke-width="0.8"/><text x="504" y="400.77" font-size="9.07">-30</text><line x1="500" y1="369.88" x2="498" y2="369.88" stroke="#262626" stroke-width="0.8"/><text x="504" y="373.68" font-size="9.07">-20</text><line x1="500" y1="342.79" x2="498" y2="342.79" stroke="#262626" stroke-width="0.8"/><text x="504" y="346.59" font-size="9.07">-10</text><line x1="500" y1="315.7" x2="498" y2="315.7" stroke="#262626" stroke-width="0.8"/><text x="504" y="319.5" font-size="9.07">0</text><text x="341.7" y="592" text-anchor="middle" class="cap" style="font-size:20px">(c)</text></g>
</svg>
</body></html>
